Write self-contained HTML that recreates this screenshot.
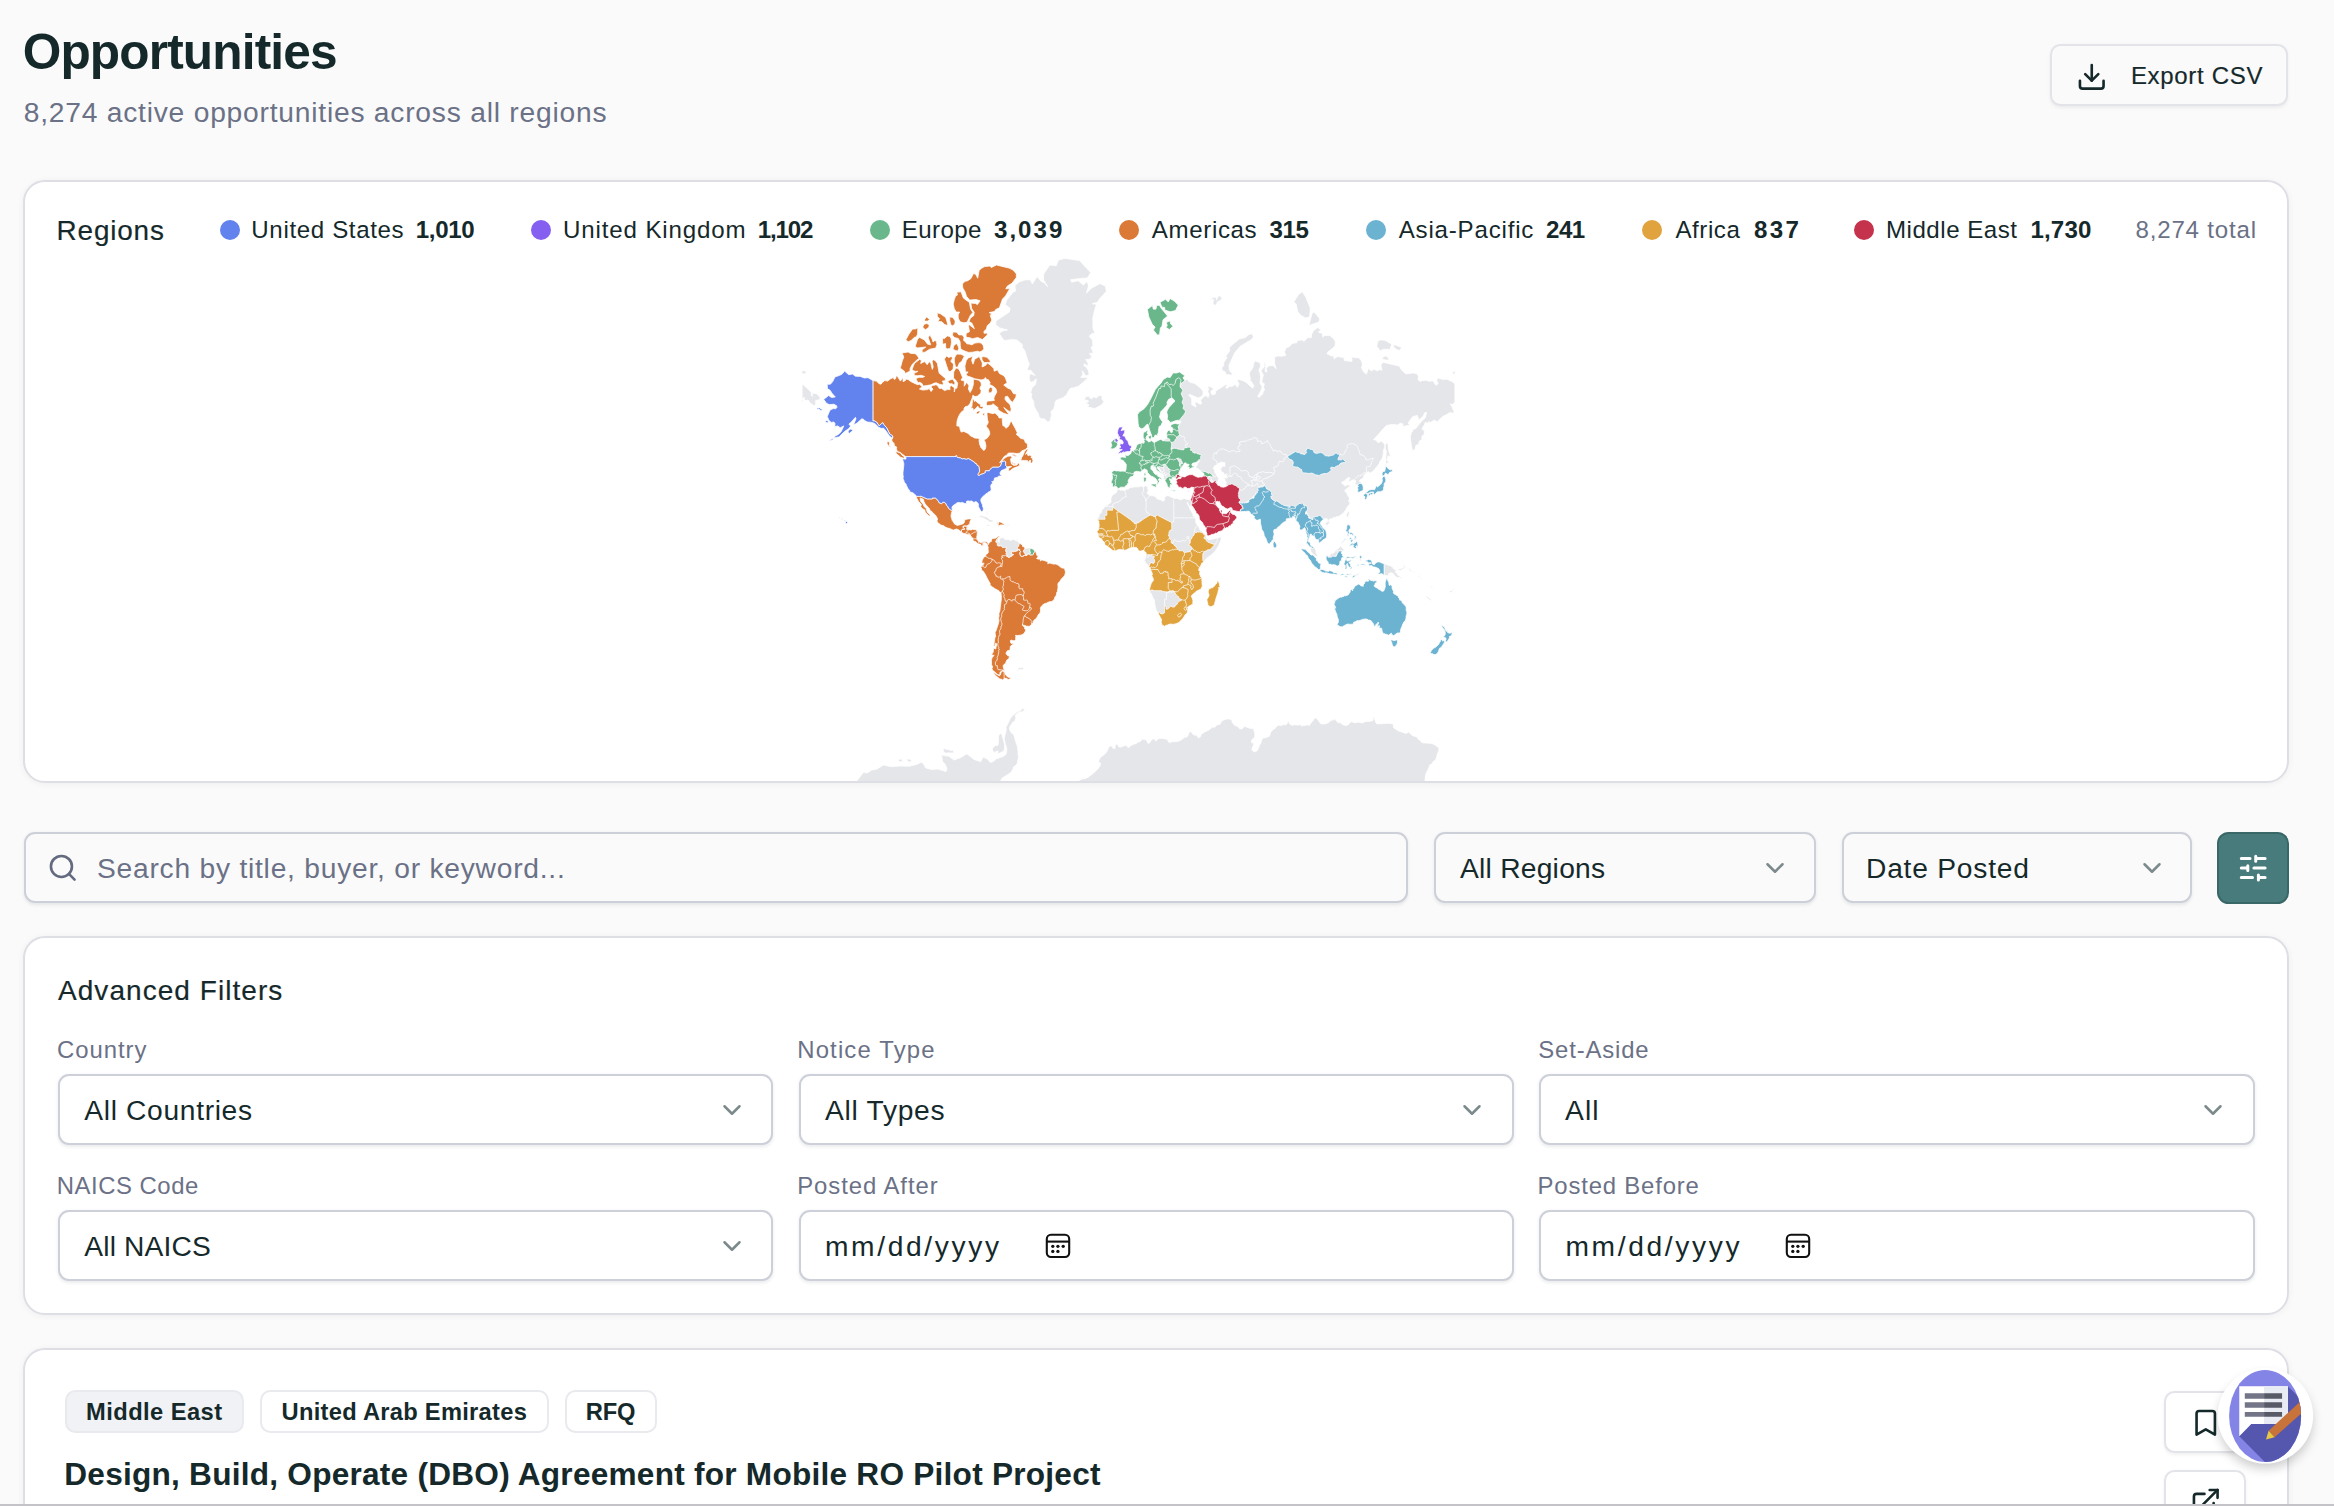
<!DOCTYPE html>
<html lang="en">
<head>
<meta charset="utf-8">
<title>Opportunities</title>
<style>
*{box-sizing:border-box;margin:0;padding:0}
html,body{width:2334px;height:1506px;overflow:hidden;background:#fafafa}
body{font-family:"Liberation Sans",sans-serif;color:#15292b;position:relative}
.abs{position:absolute}
.t{position:absolute;white-space:nowrap;font-style:normal}
button{font-family:inherit;color:inherit}
.btn-export{position:absolute;left:2050px;top:44px;width:238px;height:62px;border:2px solid #e3e4e9;border-radius:10.5px;background:#fafafa;box-shadow:0 1.75px 3.5px rgba(0,0,0,.06)}
.card{position:absolute;left:23px;width:2265.5px;background:#fff;border:2px solid #dedfe5;border-radius:22px;box-shadow:0 1px 7px rgba(0,0,0,.05)}
#mapcard{top:180px;height:603px;overflow:hidden}
.dot{position:absolute;width:20px;height:20px;border-radius:50%}
#map{position:absolute;left:0;top:0}
.field{position:absolute;height:71px;border:2px solid #cdd0d8;border-radius:11px;background:#fff;box-shadow:0 1.75px 3.5px rgba(20,30,50,.09)}
.field.g{background:#fafafa}
.teal{position:absolute;left:2217px;top:832px;width:72px;height:72px;border-radius:11.5px;background:#487c7c;border:2px solid #3a6767}
.chip{position:absolute;top:1390px;height:43px;border:2px solid #e9eaee;border-radius:10.5px;background:#fff}
.chip.f{background:#f1f2f5}
.ib{position:absolute;left:2164px;width:82px;height:62px;border:2px solid #e3e4e9;border-radius:10.5px;background:#fff;box-shadow:0 1.75px 3.5px rgba(0,0,0,.06)}
</style>
</head>
<body>
<h1 class="t" style="left:22.70px;top:21.00px;font-size:49.6px;line-height:62px;letter-spacing:-0.85px;font-weight:700">Opportunities</h1>
<p class="t" style="left:23.70px;top:95.00px;font-size:28.2px;line-height:35px;letter-spacing:0.782px;font-weight:400;color:#6b7186">8,274 active opportunities across all regions</p>
<button class="btn-export"><svg class="abs" style="left:24.30px;top:14.90px" width="31.5" height="31.5" viewBox="0 0 24 24" fill="none" stroke="#15292b" stroke-width="2" stroke-linecap="round" stroke-linejoin="round"><path d="M21 15v4a2 2 0 0 1-2 2H5a2 2 0 0 1-2-2v-4"/><path d="M7 10l5 5 5-5"/><path d="M12 15V3"/></svg><span class="t" style="left:78.90px;top:15.00px;font-size:24.0px;line-height:30px;letter-spacing:0.689px;font-weight:400;-webkit-text-stroke:.18px currentColor">Export CSV</span></button>

<section class="card" id="mapcard">
<svg id="map" width="2334" height="1506" viewBox="0 0 2334 1506" style="left:-25px;top:-182px">
<defs><clipPath id="mc"><rect x="802" y="200" width="653.5" height="640"/></clipPath></defs>
<g clip-path="url(#mc)" stroke="#fff" stroke-width="0.75" stroke-linejoin="round">
<path fill="#e5e6ea" d="M1043.7 273.9L1049.8 265.0L1056.2 265.8L1058.5 260.0L1064.9 258.4L1079.4 260.5L1090.7 272.5L1087.4 277.9L1080.4 278.5L1070.7 279.8L1071.6 282.2L1078.0 280.7L1083.5 285.1L1087.0 281.3L1088.5 285.9L1086.5 293.0L1091.1 288.5L1099.9 283.6L1105.3 286.0L1106.4 291.3L1099.0 299.5L1097.9 302.0L1092.1 303.8L1096.4 304.3L1094.2 311.8L1092.8 318.0L1092.8 327.9L1095.0 333.2L1092.2 333.6L1089.2 336.1L1092.5 340.2L1093.0 346.4L1091.0 347.0L1093.4 353.0L1089.4 353.5L1091.5 356.1L1090.9 358.4L1088.3 359.4L1085.8 359.4L1088.0 363.6L1088.1 366.3L1084.5 363.8L1083.6 365.4L1086.0 366.9L1088.4 370.4L1089.1 375.0L1085.8 376.0L1084.4 373.9L1082.2 370.7L1082.8 374.5L1080.7 377.3L1085.5 377.6L1088.0 377.8L1083.1 382.4L1078.2 386.3L1072.9 388.0L1070.9 388.1L1069.0 389.9L1066.5 394.9L1062.6 398.0L1061.3 398.2L1058.9 399.3L1056.3 400.3L1054.8 403.0L1054.7 405.9L1053.8 408.6L1050.9 411.9L1051.6 414.9L1050.8 418.0L1049.8 421.6L1047.3 421.8L1044.6 418.9L1041.0 418.8L1039.2 416.8L1038.0 413.0L1034.9 408.0L1034.0 405.4L1033.7 401.5L1031.2 397.5L1031.9 394.1L1030.6 392.5L1032.4 386.9L1035.2 385.1L1035.9 382.9L1036.3 378.9L1034.2 380.8L1033.2 381.5L1031.6 382.3L1029.4 380.6L1029.2 377.0L1029.9 374.1L1031.6 374.0L1035.3 375.5L1032.2 372.0L1030.6 370.0L1028.8 370.8L1027.3 369.4L1029.3 363.9L1028.2 361.6L1026.7 357.2L1024.6 350.2L1022.3 347.5L1022.3 344.5L1017.4 340.2L1013.6 339.6L1008.7 339.9L1004.3 340.5L1002.2 338.0L999.0 333.1L1003.8 330.5L1007.5 330.0L999.7 327.9L995.6 324.4L995.9 321.0L1002.7 316.5L1009.4 311.9L1010.1 308.2L1005.2 304.5L1006.8 300.1L1013.0 292.3L1015.7 290.9L1014.9 285.4L1019.2 282.0L1024.8 279.9L1030.4 279.8L1032.3 283.9L1037.1 276.5L1041.5 281.7L1044.0 282.6L1047.8 286.8L1043.5 279.8Z M1102.2 395.9L1101.8 398.8L1103.8 401.7L1101.5 405.0L1096.2 407.8L1094.7 408.6L1092.3 408.0L1087.2 406.7L1089.0 404.9L1085.1 402.8L1088.3 402.0L1088.2 400.7L1084.4 399.7L1085.6 396.8L1088.4 396.1L1091.2 399.1L1093.9 396.7L1096.2 398.0L1099.2 395.5Z M966.9 526.0L966.9 527.5L966.7 529.6L967.3 529.6L967.9 528.9L968.6 527.5L968.4 526.3L968.8 524.9L968.4 524.7Z M974.5 518.1L975.5 517.5L976.4 517.6L978.4 516.5L979.3 515.6L982.4 515.7L984.0 516.4L986.5 516.9L988.7 518.6L989.8 519.5L991.4 519.8L992.7 520.4L994.0 521.2L993.8 521.7L991.4 522.0L987.5 522.0L988.7 521.0L988.0 520.5L986.2 519.8L984.7 518.8L982.5 517.8L980.2 517.5L979.5 517.1L980.2 516.6L978.4 516.5L977.1 517.6L976.2 518.1Z M995.8 521.9L998.5 522.3L998.6 523.4L998.5 524.1L998.0 524.4L998.5 525.0L998.5 525.5L997.3 525.2L996.4 525.3L995.3 525.2L993.5 525.0L993.7 524.4L996.7 524.8L997.4 524.3L996.5 523.5L996.5 522.8L995.4 522.5Z M987.9 524.7L989.1 524.9L990.0 525.3L990.3 525.8L989.1 525.9L988.5 526.2L987.5 525.9L986.5 525.2L986.7 524.8Z M1008.3 524.6L1009.3 524.8L1009.6 525.2L1009.1 525.7L1007.7 525.7L1006.7 525.7L1006.6 524.9L1006.8 524.6Z M987.9 514.4L987.5 514.5L987.0 513.4L986.3 512.8L986.7 511.5L987.3 511.6L987.9 513.3Z M987.4 508.8L985.4 509.1L985.3 508.4L986.2 508.2L987.4 508.3Z M988.9 508.8L988.6 510.2L988.2 509.9L988.3 508.9L987.5 508.1L987.5 507.8Z M1016.7 539.2L1017.7 538.9L1018.1 539.0L1018.0 540.4L1016.5 540.6L1016.2 540.4L1016.7 539.9Z M1020.1 543.6L1019.4 543.1L1018.2 541.7L1016.8 540.8L1015.4 540.7L1014.6 539.7L1016.1 539.3L1014.3 539.3L1011.9 539.9L1010.8 540.4L1009.5 540.2L1008.4 539.4L1006.5 539.6L1004.9 539.6L1004.8 538.9L1003.6 537.9L1002.3 537.9L1001.7 536.6L1001.1 537.2L1001.3 538.0L999.0 538.8L999.1 540.2L999.7 540.8L999.3 542.2L998.5 542.3L997.8 540.8L998.6 538.8L998.0 538.0L999.2 537.3L998.0 537.6L997.5 538.5L996.9 539.1L996.3 539.7L996.1 541.1L995.6 542.1L996.5 542.2L996.8 543.1L997.2 543.5L997.3 544.2L997.1 544.9L997.2 545.3L997.6 545.5L998.0 546.1L1000.4 545.9L1001.4 546.1L1002.7 547.7L1003.4 547.5L1004.7 547.6L1005.8 547.4L1006.4 547.7L1006.1 548.7L1005.7 549.3L1005.5 550.6L1005.9 551.8L1006.4 552.4L1006.5 552.8L1005.6 553.7L1006.2 554.1L1006.7 554.7L1007.2 556.5L1008.2 557.5L1009.7 557.4L1010.0 556.8L1011.4 556.4L1012.1 556.1L1012.3 555.3L1013.6 554.8L1013.5 554.4L1012.0 554.3L1011.7 553.1L1011.8 551.9L1011.0 551.4L1011.3 551.3L1012.7 551.5L1014.1 552.0L1014.6 551.5L1015.9 551.3L1018.0 550.6L1018.6 549.9L1018.4 549.4L1017.2 548.0L1017.6 547.5L1017.6 546.6L1018.7 546.3L1019.2 546.0L1018.6 545.3L1018.7 544.7Z M1024.9 548.0L1027.1 548.3L1027.3 548.0L1028.7 547.8L1030.7 548.3L1029.7 549.9L1029.9 551.2L1030.6 552.2L1030.3 553.0L1030.1 553.8L1029.6 554.6L1028.6 554.2L1027.7 554.4L1027.0 554.2L1026.8 554.8L1027.1 555.1L1027.0 555.5L1026.0 555.4L1024.9 553.8L1024.6 552.8L1024.1 552.8L1023.3 551.4L1023.6 550.5L1023.5 550.1L1024.6 549.6Z M1017.5 669.1L1019.7 667.4L1021.3 668.1L1022.3 666.9L1023.8 668.2L1023.2 669.3L1020.8 670.1L1020.0 669.1L1018.4 670.4Z M1187.8 490.7L1188.0 490.6L1188.2 490.1L1189.5 490.2L1191.2 489.5L1190.0 490.4L1190.1 490.8L1190.1 491.0L1188.3 491.9L1187.4 491.6L1187.0 490.8Z M1117.7 489.3L1119.1 489.3L1120.2 490.2L1121.9 490.1L1123.8 490.6L1124.6 490.6L1126.3 489.4L1128.3 489.0L1129.4 488.1L1131.2 487.4L1134.2 487.0L1137.2 486.8L1138.1 487.1L1139.9 486.2L1141.8 486.2L1142.5 486.7L1143.8 486.6L1145.7 485.7L1147.0 486.0L1147.0 487.1L1148.5 486.3L1148.6 486.7L1147.7 487.8L1147.7 488.9L1148.3 489.4L1148.1 491.4L1146.9 492.5L1147.2 493.6L1148.2 493.7L1148.6 494.7L1149.3 495.1L1151.5 495.8L1152.2 495.6L1153.7 496.0L1156.1 496.9L1157.0 498.8L1158.6 499.3L1161.2 500.1L1163.1 501.2L1164.0 500.6L1164.9 499.7L1164.4 498.0L1165.0 497.0L1166.3 496.0L1167.6 495.7L1170.0 496.1L1170.6 497.1L1171.3 497.1L1171.9 497.5L1173.7 497.7L1174.1 498.4L1176.5 498.4L1178.3 499.0L1180.1 499.6L1180.9 499.9L1182.3 499.2L1183.1 498.6L1184.7 498.4L1186.0 498.7L1186.4 499.8L1186.9 499.1L1188.3 499.6L1189.7 499.7L1190.6 499.2L1191.8 502.8L1191.3 503.6L1190.9 505.2L1190.4 506.3L1190.0 506.6L1189.4 505.9L1188.6 505.0L1187.3 502.1L1187.1 502.2L1187.8 504.4L1189.0 506.5L1190.3 509.7L1191.0 510.8L1191.6 511.9L1193.2 514.1L1192.8 514.4L1192.9 515.7L1195.0 517.5L1195.3 517.9L1195.9 519.8L1195.5 520.2L1195.8 522.1L1196.5 524.4L1197.1 524.9L1198.1 525.6L1199.2 527.8L1199.7 529.6L1200.7 530.5L1203.2 532.2L1204.2 533.3L1205.2 534.4L1205.7 535.0L1206.6 535.6L1207.0 536.2L1207.0 536.9L1206.0 537.4L1206.7 537.9L1207.3 538.2L1207.7 539.0L1208.5 539.7L1209.4 539.8L1211.1 539.3L1213.1 539.1L1214.7 538.5L1215.6 538.4L1216.2 538.0L1217.3 538.0L1217.8 537.9L1218.7 537.7L1219.6 537.5L1220.5 536.8L1221.2 536.8L1221.2 537.3L1221.0 538.4L1221.1 539.4L1220.7 540.1L1220.2 542.0L1219.3 544.1L1218.2 546.4L1216.6 549.1L1215.1 551.1L1212.9 553.6L1211.1 555.1L1208.4 556.9L1206.7 558.3L1204.7 560.5L1204.3 561.4L1203.9 561.8L1197.4 564.2L1193.8 577.0L1186.5 595.8L1175.6 611.7L1168.4 616.9L1164.8 615.9L1158.1 612.9L1156.8 611.3L1156.1 609.9L1155.7 607.9L1155.2 606.4L1154.6 603.3L1154.6 601.0L1154.4 599.9L1153.6 599.1L1152.7 597.5L1151.8 595.2L1151.4 594.0L1149.9 592.1L1149.8 590.7L1153.9 584.4L1154.8 573.4L1152.1 567.1L1148.6 566.0L1146.8 564.2L1145.6 562.7L1144.5 560.8L1144.5 560.2L1144.9 559.6L1145.3 558.3L1145.7 557.0L1145.4 556.7L1146.0 554.7L1150.3 553.4L1146.6 547.9L1128.5 540.6L1110.4 536.9L1106.7 525.6L1103.1 519.8L1097.6 519.8L1097.6 519.0L1097.7 518.1L1098.4 517.6L1099.0 516.6L1098.9 515.9L1099.5 514.5L1100.5 513.2L1101.1 512.9L1101.6 511.8L1101.7 510.7L1102.3 509.4L1103.5 508.7L1104.7 506.6L1105.6 505.8L1107.3 505.6L1108.7 504.2L1109.6 503.6L1111.2 501.9L1110.7 499.3L1111.4 497.4L1111.6 496.3L1112.8 494.8L1114.6 493.8L1116.0 492.9L1117.2 490.6L1117.7 489.3Z M1184.9 380.8L1186.8 379.0L1189.7 382.2L1194.7 383.4L1201.5 389.0L1202.9 391.2L1203.1 394.4L1201.1 396.7L1198.1 397.9L1190.0 394.5L1188.7 395.1L1191.6 398.4L1191.7 400.4L1191.8 404.8L1194.2 406.1L1195.6 407.1L1195.8 405.1L1194.8 403.3L1195.9 401.7L1200.3 404.3L1201.8 403.3L1200.6 400.1L1204.8 395.8L1206.5 396.0L1208.2 397.6L1209.2 394.5L1207.7 391.7L1208.6 388.9L1207.3 385.9L1212.4 387.4L1213.4 390.1L1211.1 390.7L1211.1 393.3L1212.5 394.9L1215.3 393.9L1215.8 390.9L1219.6 388.6L1225.9 384.4L1227.3 384.7L1225.5 387.7L1227.7 388.2L1229.0 386.5L1232.4 386.3L1235.1 384.3L1237.2 387.3L1239.2 384.0L1237.3 381.0L1238.3 379.3L1243.6 380.9L1246.2 382.5L1252.7 388.2L1253.9 385.6L1252.1 383.0L1252.0 381.9L1249.9 381.4L1250.4 378.9L1249.5 374.7L1249.4 372.9L1252.8 367.8L1254.0 362.3L1255.3 361.1L1260.1 362.7L1260.5 366.1L1258.8 370.8L1259.9 372.6L1260.5 376.4L1260.1 383.6L1262.1 386.6L1261.3 389.9L1257.7 396.5L1259.8 397.2L1260.5 395.5L1262.5 394.4L1263.0 392.1L1264.6 389.8L1263.5 387.0L1264.4 383.7L1262.4 383.3L1261.9 380.5L1263.4 375.1L1261.0 370.6L1264.3 366.7L1263.9 362.4L1264.8 362.3L1265.7 365.6L1265.0 371.2L1266.9 372.2L1266.1 368.1L1269.2 365.8L1272.9 365.5L1276.3 368.8L1274.7 363.9L1274.5 357.2L1277.6 355.9L1282.0 356.2L1285.9 355.3L1284.4 351.9L1286.5 347.3L1288.6 347.2L1292.2 343.6L1296.9 342.6L1297.5 340.5L1302.3 339.9L1303.8 341.5L1307.9 337.5L1311.2 337.7L1311.7 334.3L1313.4 330.8L1317.7 327.4L1320.8 330.1L1318.3 332.1L1322.4 333.4L1322.9 337.3L1324.6 335.4L1329.9 335.5L1334.0 339.3L1335.4 342.0L1335.0 345.8L1333.0 348.0L1328.2 351.8L1326.9 353.8L1329.1 354.7L1331.8 356.3L1333.4 355.1L1334.3 359.2L1335.1 357.6L1338.0 356.6L1343.9 357.6L1344.3 360.6L1351.9 361.5L1352.0 356.7L1355.8 357.8L1358.7 357.7L1361.6 361.1L1362.5 365.0L1361.4 367.5L1363.7 372.0L1366.5 374.3L1368.3 368.3L1371.2 370.9L1374.3 369.3L1377.8 371.1L1379.1 369.5L1382.1 370.3L1380.8 364.9L1383.2 362.3L1399.6 366.2L1401.1 369.6L1405.8 374.0L1413.2 372.9L1416.8 373.8L1418.3 376.1L1418.1 380.0L1420.3 381.4L1422.7 380.4L1425.9 380.3L1429.4 381.3L1432.8 380.7L1436.0 385.3L1438.2 383.6L1436.7 380.4L1437.5 378.0L1443.3 379.5L1447.1 379.2L1452.3 381.7L1454.9 383.9L1454.9 402.4L1452.5 404.3L1450.2 404.0L1451.8 406.2L1452.9 409.6L1453.7 410.7L1453.9 412.3L1453.5 413.3L1450.1 412.5L1445.0 415.4L1443.4 415.9L1440.6 418.5L1438.0 420.8L1437.3 422.4L1434.7 419.9L1430.0 422.7L1429.2 421.4L1427.4 423.0L1425.0 422.5L1424.4 424.8L1422.3 428.2L1422.3 429.6L1424.4 430.3L1424.1 435.2L1422.5 435.3L1421.7 438.0L1422.4 439.3L1419.3 441.0L1418.6 444.5L1415.9 445.2L1415.4 448.2L1412.8 450.9L1412.1 448.9L1411.3 444.6L1410.3 437.7L1411.2 433.2L1412.7 431.2L1412.8 429.6L1415.6 428.8L1418.9 424.5L1422.0 420.8L1425.3 417.8L1426.7 412.4L1424.5 412.7L1423.4 415.9L1418.8 420.0L1417.3 415.4L1412.6 416.7L1408.1 422.9L1409.6 425.1L1405.6 426.0L1402.8 426.3L1402.9 423.8L1400.1 423.2L1397.8 425.0L1392.3 424.4L1386.3 425.4L1380.4 432.1L1373.5 439.7L1376.4 440.2L1377.2 442.1L1379.0 442.8L1380.2 441.2L1382.2 441.4L1384.8 444.8L1384.8 447.3L1383.4 450.3L1383.3 453.7L1382.4 458.1L1379.7 462.0L1379.1 463.8L1376.6 466.9L1374.2 469.8L1373.0 471.3L1370.6 472.8L1369.5 472.8L1368.3 471.6L1365.9 473.4L1365.6 474.2L1364.9 474.1L1364.1 474.9L1363.6 475.7L1363.7 477.5L1362.7 478.0L1362.4 478.4L1361.7 479.1L1360.5 479.5L1359.7 480.1L1359.7 481.1L1359.5 481.4L1360.2 481.8L1361.2 482.8L1361.0 483.4L1360.2 483.5L1358.9 483.6L1358.2 484.7L1357.4 484.6L1357.3 484.8L1356.4 484.4L1356.2 484.8L1355.6 485.0L1355.6 484.5L1355.1 484.3L1354.6 484.0L1355.1 482.9L1355.5 482.7L1355.4 482.2L1355.8 481.0L1355.7 480.6L1354.7 480.3L1353.8 479.7L1351.3 480.4L1349.9 481.5L1348.0 482.1L1349.0 481.1L1348.6 480.1L1350.0 478.5L1349.0 477.3L1347.5 478.1L1345.4 479.8L1344.3 481.3L1342.5 481.4L1341.6 482.5L1342.6 484.1L1344.0 484.4L1344.1 485.5L1345.5 486.1L1347.6 484.5L1349.2 485.4L1350.4 485.5L1350.6 486.7L1348.1 487.3L1347.2 488.5L1345.5 489.6L1344.5 491.2L1346.5 492.4L1347.2 494.5L1348.3 496.5L1349.5 498.2L1349.5 499.7L1348.4 500.3L1348.8 501.4L1349.9 502.1L1349.6 503.8L1349.1 505.4L1348.1 505.6L1346.8 507.8L1345.3 510.5L1343.6 512.9L1341.1 514.7L1338.6 516.4L1336.6 516.6L1335.5 517.5L1334.8 516.8L1333.8 517.8L1331.3 518.8L1329.4 519.1L1328.7 521.1L1327.7 521.2L1327.3 519.8L1327.7 519.1L1325.3 518.4L1324.4 518.8L1320.7 519.8L1315.2 521.8L1309.8 517.9L1305.3 510.0L1298.9 506.9L1288.1 507.9L1280.8 505.9L1273.5 501.7L1269.9 495.4L1262.7 488.8L1255.4 494.3L1249.1 500.7L1240.9 504.9L1233.7 495.4L1228.2 491.0L1215.5 486.5L1210.1 483.1L1207.0 478.8L1205.6 476.4L1204.3 474.7L1201.9 471.8L1201.0 471.2L1198.6 469.1L1196.6 468.1L1195.0 466.6L1196.3 466.2L1197.8 464.0L1196.8 463.0L1199.5 461.9L1199.4 461.3L1197.8 461.8L1195.6 458.0L1188.3 451.0L1179.3 451.0L1172.9 450.1L1170.2 446.6L1171.1 440.5L1176.5 435.7L1178.0 429.0L1179.2 423.9L1181.3 421.9L1179.4 420.2L1182.0 414.5L1182.0 402.3L1180.2 388.6L1181.1 382.2Z M802.1 383.9L806.6 387.7L811.3 392.4L811.2 395.3L812.4 396.4L812.0 393.1L816.9 393.8L820.5 398.0L818.7 400.0L815.7 400.4L815.6 404.6L814.9 405.5L813.2 405.4L811.8 403.9L809.4 402.6L809.0 400.8L807.2 400.1L805.1 400.6L804.1 399.1L804.5 397.4L802.4 398.5L803.2 400.6L802.1 402.4Z M1165.0 480.4L1164.7 480.3L1164.7 479.7L1163.7 479.0L1163.5 477.8L1163.7 476.2L1163.9 475.4L1163.6 475.0L1163.2 474.8L1162.7 474.1L1162.0 473.6L1161.1 471.0L1157.5 466.0L1162.9 463.3L1167.5 466.0L1170.6 472.3L1170.6 477.2L1166.6 480.7Z M1313.7 547.5L1314.1 547.7L1315.2 548.8L1315.9 550.0L1316.0 551.2L1315.8 552.0L1316.0 552.7L1316.2 553.7L1316.8 554.2L1317.5 555.8L1317.5 556.5L1316.2 556.6L1314.5 555.2L1312.3 553.8L1312.1 552.9L1311.1 551.7L1310.8 550.1L1310.2 549.2L1310.4 547.8L1310.0 547.1L1310.3 546.7L1311.8 547.5L1311.9 548.5L1313.1 548.2Z M1349.3 513.2L1348.2 516.3L1347.4 518.0L1346.5 516.3L1346.3 514.8L1347.3 512.9L1348.8 511.4L1349.6 512.0Z M1328.6 524.3L1327.0 525.2L1325.5 524.6L1325.5 523.0L1326.3 522.1L1328.3 521.6L1329.4 521.6L1329.8 522.4L1329.0 523.2Z M1389.0 451.7L1390.8 456.7L1388.1 455.7L1387.0 459.7L1388.7 462.4L1388.7 464.3L1387.3 462.7L1386.1 464.7L1385.8 462.5L1386.0 459.9L1385.8 457.0L1386.2 454.9L1386.3 451.1L1385.2 448.2L1385.4 444.2L1387.1 442.8L1386.3 441.3L1387.1 440.9L1387.6 442.9L1388.2 445.8L1388.2 448.7Z M1252.1 333.6L1253.3 336.8L1252.1 339.2L1245.7 342.9L1240.2 346.3L1234.5 352.9L1231.8 359.3L1229.0 365.2L1229.3 370.0L1232.8 374.6L1231.7 375.1L1225.8 374.4L1225.3 371.9L1222.1 370.4L1221.8 367.3L1223.7 366.0L1223.6 362.8L1227.2 357.4L1225.5 356.6L1229.9 350.7L1229.4 347.6L1233.4 343.8L1239.4 339.0L1245.4 337.6L1248.5 334.7Z M1302.4 291.8L1306.0 297.6L1310.2 308.0L1309.7 316.8L1305.7 317.9L1300.7 315.3L1297.7 311.5L1296.3 304.2L1293.8 302.1L1298.5 294.5Z M1315.0 313.0L1319.5 318.4L1319.0 322.0L1308.8 325.5L1312.1 313.5L1313.6 312.3Z M1380.2 339.9L1385.0 340.2L1391.6 344.2L1390.1 349.4L1383.4 349.2L1380.4 350.9L1376.8 346.3L1377.8 341.3Z M1397.2 345.7L1401.8 347.6L1399.7 350.3L1396.8 349.7L1393.4 347.0L1393.9 344.6Z M1382.1 359.0L1383.8 356.5L1386.1 355.9L1388.6 358.3L1388.9 360.0L1386.1 360.0L1382.4 359.3Z M1454.9 374.0L1452.9 374.3L1452.6 372.5L1454.9 370.2Z M802.1 370.2L806.5 371.6L806.4 372.4L804.5 373.7L802.1 374.0Z M1209.8 299.4L1213.4 297.4L1216.1 297.2L1216.5 300.3L1217.5 297.6L1219.2 295.6L1221.9 298.1L1221.2 299.8L1218.8 301.2L1217.1 302.1L1216.9 303.8L1214.8 305.6L1212.8 303.1L1213.8 299.7Z M1343.6 550.7L1342.2 551.3L1340.7 551.0L1338.6 551.0L1337.9 553.0L1337.2 553.7L1336.3 556.2L1334.8 556.6L1333.1 556.1L1332.3 556.2L1331.2 557.2L1330.0 557.0L1328.9 557.4L1327.6 556.4L1327.3 555.2L1328.7 555.8L1330.1 555.4L1330.4 553.9L1331.2 553.6L1333.4 553.2L1334.7 551.7L1335.6 550.6L1336.3 549.9L1337.8 548.9L1339.2 547.6L1340.1 546.2L1340.9 546.2L1341.8 547.1L1341.9 547.9L1343.1 548.4L1344.6 549.0L1344.5 549.7L1343.2 549.8Z M1384.1 563.5L1387.3 564.8L1390.6 565.8L1391.9 566.7L1392.9 567.7L1393.2 568.7L1396.2 569.8L1396.6 570.8L1395.0 571.0L1395.4 572.2L1397.0 573.4L1398.2 575.4L1399.2 575.3L1399.1 576.1L1400.5 576.4L1400.0 576.8L1401.9 577.6L1401.7 578.1L1400.5 578.2L1400.1 577.7L1398.5 577.5L1396.7 577.3L1395.3 576.1L1394.2 575.1L1393.3 573.5L1390.9 572.7L1389.4 573.2L1388.3 573.8L1388.5 575.1L1387.1 575.8L1386.1 575.5L1384.2 575.4L1384.1 569.4Z M1402.8 569.4L1401.8 569.8L1400.9 570.3L1399.9 570.3L1398.5 569.8L1397.4 569.2L1397.6 568.7L1399.2 568.9L1400.2 568.8L1400.7 567.9L1400.9 568.8L1401.9 568.7L1402.4 568.1L1403.5 567.4L1403.3 566.4L1404.3 566.3L1404.7 566.6L1404.7 567.6L1404.1 568.8L1403.1 568.9Z M1401.7 563.8L1402.2 563.3L1403.1 563.8L1403.8 564.2L1404.5 564.7L1405.3 565.4L1405.9 566.0L1406.2 567.0L1405.6 567.5L1405.3 566.4L1404.8 565.7L1404.0 565.1L1403.0 564.3Z M1409.1 568.5L1409.6 568.9L1410.5 570.1L1411.4 570.7L1411.1 571.2L1410.6 571.4L1409.8 570.7L1409.0 569.5L1408.6 568.1L1408.9 567.9Z M1429.1 597.9L1430.6 599.1L1431.5 600.0L1430.8 600.5L1429.8 600.0L1428.5 599.1L1427.4 598.0L1426.2 596.7L1425.9 596.0L1426.7 596.1L1427.7 596.7L1428.5 597.4Z M802.1 795.5L829.3 797.3L841.3 788.6L847.5 786.1L856.5 781.3L863.6 772.3L866.9 773.0L871.8 770.1L876.7 769.2L883.4 765.0L891.2 766.7L900.0 766.0L909.1 766.3L914.6 765.0L917.8 764.0L920.9 762.3L923.1 763.3L925.8 768.0L931.4 769.4L938.1 769.1L946.1 771.6L947.0 768.5L944.9 763.8L942.6 762.0L941.6 754.7L944.3 755.6L949.0 756.3L953.9 760.0L961.0 757.5L966.8 753.8L974.0 759.4L980.7 761.7L982.9 757.1L987.1 758.8L990.3 762.4L992.7 761.8L996.5 758.8L1003.6 756.3L1005.4 755.0L1006.3 753.2L1006.8 750.5L1006.6 747.9L1005.9 745.9L1004.3 739.6L1004.4 737.5L1005.9 731.6L1006.3 729.7L1005.9 727.5L1007.6 724.2L1009.9 719.2L1012.1 716.0L1015.2 713.6L1017.9 711.5L1020.1 710.9L1022.3 708.6L1024.8 709.0L1024.1 710.5L1022.3 711.7L1020.1 711.9L1018.6 712.3L1016.1 714.4L1015.2 715.7L1015.9 717.5L1014.6 721.5L1013.0 721.9L1009.7 727.0L1009.4 729.0L1011.0 732.4L1013.9 734.9L1015.5 741.2L1017.0 745.1L1017.9 750.2L1018.4 757.5L1017.2 763.3L1016.1 765.3L1013.7 766.7L1013.0 768.7L1011.7 771.6L1009.0 773.7L1006.7 775.2L1001.9 778.2L1000.5 781.3L997.6 782.1L994.3 781.3L988.5 782.1L987.3 787.7L992.5 792.8L1019.7 811.9L1046.9 792.8L1063.2 792.8L1064.5 792.0L1067.0 792.0L1070.1 789.8L1074.1 784.4L1076.1 781.8L1082.3 778.9L1085.2 778.5L1087.7 777.4L1092.2 774.2L1096.8 770.1L1100.0 766.0L1100.6 763.3L1098.6 761.8L1099.3 759.2L1100.6 757.2L1104.4 754.4L1106.2 752.6L1107.6 750.2L1108.6 747.3L1109.8 746.0L1112.0 746.2L1112.9 748.3L1115.1 748.5L1115.1 746.2L1116.0 744.0L1118.0 744.5L1118.5 746.8L1120.7 747.1L1123.0 746.2L1125.2 745.5L1127.3 745.8L1128.1 747.9L1130.1 746.2L1131.9 745.1L1133.9 744.0L1135.9 743.7L1137.9 742.3L1139.9 741.5L1141.4 740.4L1142.5 738.6L1143.9 739.9L1145.7 739.1L1148.1 743.4L1150.2 742.3L1151.0 740.4L1152.8 738.9L1155.2 739.2L1155.9 741.2L1157.4 739.2L1159.3 738.6L1161.5 738.4L1163.4 738.5L1165.5 739.1L1167.4 739.5L1168.2 741.2L1169.5 742.9L1171.5 741.8L1173.5 741.7L1175.6 741.7L1177.6 741.5L1179.4 740.7L1181.4 740.1L1182.9 738.6L1184.7 737.3L1186.5 737.3L1187.9 735.8L1188.9 732.9L1189.9 731.4L1191.8 732.2L1192.5 733.9L1194.1 735.2L1195.9 734.8L1197.2 736.5L1198.6 737.9L1200.4 736.7L1201.0 734.4L1202.7 733.4L1204.7 731.9L1208.5 730.3L1212.8 727.0L1214.4 727.5L1217.3 724.7L1219.0 724.7L1220.5 723.7L1220.9 722.0L1222.4 720.8L1223.9 719.9L1225.7 719.2L1227.3 718.9L1228.9 719.1L1230.8 719.5L1232.1 720.8L1232.3 722.7L1233.8 724.2L1234.9 725.6L1237.1 726.1L1238.4 727.4L1239.8 728.7L1241.6 729.0L1243.1 728.0L1244.6 726.1L1246.4 727.0L1249.8 728.3L1251.6 728.6L1253.4 728.6L1254.9 733.8L1254.8 735.1L1254.6 737.4L1252.9 738.7L1251.4 740.7L1251.7 742.9L1253.7 742.7L1253.5 744.9L1252.6 747.0L1251.7 749.4L1253.1 751.2L1255.2 751.8L1257.2 750.8L1259.9 744.6L1261.0 743.0L1261.4 741.0L1262.4 738.4L1263.6 737.9L1265.6 737.7L1267.4 737.1L1269.3 736.3L1270.1 734.3L1270.6 732.4L1271.9 730.6L1273.7 729.3L1275.2 728.4L1276.3 726.7L1277.3 725.9L1278.6 725.2L1280.4 725.7L1282.0 725.2L1283.8 724.6L1285.8 724.9L1287.1 723.7L1288.0 720.6L1288.7 721.8L1289.6 724.0L1291.1 724.9L1292.8 725.3L1294.6 724.7L1296.4 725.1L1298.0 725.1L1299.3 724.7L1300.7 725.0L1302.2 726.1L1303.8 725.4L1305.7 725.4L1307.4 724.7L1309.3 725.4L1310.5 723.8L1311.4 722.3L1312.7 721.1L1314.9 717.7L1316.1 718.3L1317.5 719.5L1318.7 721.1L1321.0 723.9L1322.8 724.0L1324.5 724.0L1326.4 723.5L1328.4 722.8L1329.9 721.6L1331.1 720.2L1333.1 720.1L1334.5 719.1L1335.9 720.0L1336.8 721.4L1338.1 722.8L1340.1 722.6L1341.3 723.8L1343.5 725.0L1345.8 725.5L1347.6 725.1L1349.1 723.7L1350.3 722.2L1351.9 721.8L1353.5 722.5L1355.4 722.9L1357.1 722.2L1358.8 722.2L1362.0 723.1L1363.7 722.3L1365.6 721.6L1367.5 721.4L1369.5 721.4L1371.2 721.0L1372.8 720.6L1373.3 718.4L1373.4 716.6L1374.5 717.8L1374.8 719.8L1375.4 721.6L1376.2 723.2L1377.7 724.0L1379.8 723.8L1382.2 723.7L1383.8 723.4L1386.2 723.4L1387.9 723.3L1390.3 723.5L1392.3 723.8L1393.6 725.3L1393.2 727.0L1394.4 728.5L1396.3 729.6L1398.4 730.9L1400.7 731.7L1403.1 732.5L1405.0 733.2L1407.1 733.3L1408.2 731.7L1409.8 733.1L1411.2 734.7L1412.8 735.8L1415.0 736.4L1417.1 737.0L1418.0 739.0L1420.1 740.3L1421.4 742.2L1423.5 743.1L1425.6 743.0L1427.5 743.3L1429.7 743.2L1431.8 743.6L1433.9 744.3L1435.7 745.7L1437.6 746.8L1438.9 748.5L1438.7 750.8L1437.7 752.8L1436.9 755.6L1436.3 757.8L1435.4 760.4L1433.1 761.4L1432.0 763.8L1429.6 765.2L1428.8 767.8L1427.6 770.5L1426.3 772.7L1425.5 775.7L1425.1 778.5L1424.9 782.0L1424.9 785.0L1426.0 788.2L1426.3 791.4L1427.2 794.4L1430.6 795.7L1431.3 799.6L1445.8 795.5L1454.9 797.3L1454.9 884.1L802.1 884.1Z M1004.4 744.3L1004.6 746.8L1004.3 749.1L1003.8 751.2L1001.7 752.1L999.6 753.2L997.2 753.1L998.1 750.8L994.0 752.4L992.6 750.6L992.5 748.3L994.5 746.0L995.7 745.4L997.8 745.6L998.4 742.7L998.5 740.7L998.4 736.5L999.5 734.1L1001.1 733.3L1002.1 735.2L1002.5 737.1L1003.3 739.5L1003.9 741.8Z M943.0 749.6L944.1 748.6L946.4 749.4L949.0 749.8L951.0 750.6L953.0 749.9L954.1 753.3L952.7 752.8L950.5 753.1L948.2 752.8L945.8 753.2L943.9 752.1Z M1418.1 575.6L1419.2 575.9L1419.8 576.3L1420.1 576.8L1419.4 576.8L1418.3 576.6L1417.9 576.4Z M1420.3 573.9L1420.9 575.4L1421.6 576.3L1421.4 576.6L1420.0 575.0L1419.6 573.9Z M1416.0 572.9L1417.9 573.4L1418.4 574.0L1418.5 574.3L1417.0 573.6L1415.4 572.3L1415.6 572.1L1416.5 572.5Z M1413.4 571.6L1414.1 572.2L1413.8 572.3L1413.0 571.9L1412.2 571.1L1412.3 570.8Z M1421.6 577.4L1422.9 578.6L1421.7 578.5L1421.0 577.4Z M1431.7 588.0L1432.8 589.1L1432.2 589.3L1431.6 588.5Z M1430.9 587.6L1430.7 587.0L1430.6 585.6L1431.5 586.2L1431.8 587.7L1431.3 587.5Z M1451.9 590.7L1452.5 591.3L1452.2 592.3L1451.1 592.5L1450.1 592.3L1449.9 591.5L1450.6 590.8L1451.5 591.0Z M1453.7 589.7L1452.6 590.1L1452.3 589.4L1453.2 589.0L1453.8 588.9L1454.9 588.3L1454.9 589.3Z M898.2 759.4L901.9 759.1L902.8 761.3L899.1 762.0Z M906.4 758.8L910.9 759.4L911.8 761.7L908.2 762.0Z"/>
<path fill="#ffffff" d="M1217.1 483.5L1217.7 485.2L1219.4 485.7L1220.7 486.8L1223.3 487.2L1226.1 486.6L1226.3 486.0L1225.9 484.4L1226.3 482.0L1224.8 481.2L1225.2 479.6L1224.0 479.5L1224.4 477.5L1226.2 478.0L1227.7 477.3L1226.4 475.8L1225.9 474.4L1224.4 475.1L1224.2 476.8L1223.7 475.3L1223.6 474.7L1224.0 473.7L1223.7 472.8L1221.6 472.0L1220.8 469.7L1219.8 469.1L1219.7 468.2L1221.5 468.5L1221.5 466.6L1223.1 466.2L1224.7 466.6L1225.0 464.1L1224.7 462.4L1222.9 462.6L1221.3 461.9L1219.2 463.1L1217.5 463.6L1216.7 465.1L1214.9 465.6L1213.1 468.2L1214.8 470.6L1214.6 472.3L1216.6 475.2L1217.5 476.5L1218.5 478.2L1219.3 478.3L1219.9 478.9L1218.4 479.1L1218.1 481.0L1217.7 481.8L1217.1 482.3Z"/>
<path fill="#c4324c" d="M1203.8 475.9L1205.8 475.8L1207.5 476.9L1207.8 477.8L1207.7 479.0L1209.0 479.5L1209.7 480.2L1210.0 481.1L1210.9 482.2L1212.2 482.5L1212.8 482.4L1215.0 480.7L1215.6 480.5L1216.2 481.2L1215.5 482.4L1216.7 483.6L1217.1 483.5L1217.7 485.2L1219.4 485.7L1220.7 486.8L1223.3 487.2L1226.1 486.6L1226.3 486.0L1227.9 485.6L1229.1 484.3L1230.4 484.4L1231.2 483.9L1232.4 484.1L1234.5 485.3L1235.9 485.6L1238.0 487.6L1239.3 487.7L1239.5 489.5L1238.7 492.3L1238.2 493.9L1239.0 494.2L1238.3 495.4L1238.8 497.1L1239.0 498.5L1240.4 498.8L1240.5 500.2L1238.9 502.1L1239.8 503.2L1240.5 504.4L1242.2 505.3L1242.3 507.2L1243.1 507.5L1243.3 508.4L1240.7 509.5L1240.0 511.8L1236.6 511.2L1234.6 510.7L1232.6 510.5L1231.8 508.0L1230.9 507.6L1229.5 508.0L1227.7 509.0L1225.5 508.3L1223.7 506.7L1221.9 506.1L1220.7 504.2L1219.4 501.4L1218.4 501.8L1217.2 501.1L1216.6 501.9L1215.5 501.8L1215.9 502.7L1215.7 503.2L1216.3 504.8L1217.0 506.5L1217.9 507.0L1218.2 507.7L1219.4 508.6L1219.5 509.4L1219.4 510.1L1219.6 510.7L1220.1 511.3L1220.4 512.0L1220.6 512.5L1220.5 511.0L1221.0 509.9L1221.5 509.7L1222.0 510.4L1222.1 511.5L1221.7 512.7L1222.0 513.5L1222.3 513.4L1222.4 513.9L1223.8 513.6L1225.3 513.7L1226.4 513.7L1227.7 512.4L1229.0 511.1L1230.2 509.8L1230.7 509.1L1230.9 509.3L1230.7 510.2L1230.5 510.5L1230.8 512.1L1231.6 513.5L1232.6 514.2L1233.9 514.4L1235.0 514.8L1235.8 516.0L1236.3 516.6L1236.9 516.9L1236.9 517.3L1236.3 518.5L1236.0 519.0L1235.2 519.6L1234.5 520.9L1233.7 520.9L1233.4 521.3L1233.1 522.3L1233.3 523.6L1233.1 523.8L1232.3 523.8L1231.1 524.5L1231.0 525.4L1230.5 525.8L1229.4 525.8L1228.7 526.3L1228.7 527.1L1227.8 527.6L1226.8 527.4L1225.6 528.1L1224.8 528.2L1223.5 528.7L1223.1 529.5L1223.1 530.2L1221.3 530.9L1218.4 531.8L1216.8 533.2L1216.0 533.3L1215.4 533.1L1214.4 533.9L1213.2 534.3L1211.7 534.4L1211.2 534.5L1210.8 535.0L1210.3 535.1L1210.1 535.6L1209.2 535.5L1208.6 535.8L1207.3 535.7L1206.9 534.6L1206.9 533.6L1206.6 533.0L1206.3 531.7L1205.7 530.9L1206.1 530.8L1205.9 529.9L1206.1 529.6L1206.1 528.7L1205.8 528.0L1205.3 527.4L1205.1 526.6L1204.2 525.9L1203.2 524.3L1202.7 522.8L1201.5 521.5L1200.7 521.1L1199.5 519.3L1199.2 517.9L1199.3 516.8L1198.3 514.6L1197.4 513.8L1196.5 513.4L1195.9 512.2L1196.0 511.8L1195.5 510.8L1194.9 510.3L1194.2 508.8L1193.1 507.2L1192.2 505.8L1191.3 505.8L1191.6 504.6L1191.7 503.9L1191.9 503.1L1191.8 502.8L1190.6 499.2L1191.2 498.5L1191.0 498.3L1191.5 497.4L1191.9 495.7L1192.1 495.2L1192.8 493.4L1193.7 491.8L1193.6 490.1L1194.0 489.2L1193.4 488.1L1194.1 487.3L1193.0 487.5L1191.4 487.0L1190.2 488.3L1187.4 488.5L1186.0 487.3L1184.0 487.2L1183.6 488.2L1182.3 488.4L1180.6 487.2L1178.6 487.3L1177.5 485.0L1176.2 483.7L1177.1 481.9L1175.9 480.8L1178.0 478.5L1180.8 478.5L1181.5 476.6L1185.0 476.9L1187.2 475.4L1189.3 474.7L1192.3 474.6L1195.4 476.3L1198.0 477.3L1200.1 476.9L1201.7 477.1Z M1177.8 477.9L1176.3 479.2L1175.7 478.1L1175.5 477.5L1175.8 477.2L1176.4 475.5L1175.6 474.9L1177.7 474.0L1179.3 474.7L1179.5 475.7L1181.1 476.4L1180.7 477.0L1178.6 477.2Z"/>
<path fill="#e0a33e" d="M1097.6 519.8L1097.9 519.2L1105.1 519.2L1104.7 516.4L1105.2 515.4L1106.9 515.2L1106.8 510.1L1112.7 510.2L1112.8 507.1L1119.6 512.0L1125.7 516.3L1131.8 520.6L1132.2 521.5L1133.4 522.0L1134.2 522.4L1134.2 523.6L1136.2 523.4L1138.8 522.5L1144.0 518.7L1150.2 515.0L1153.1 515.9L1154.1 516.9L1155.4 516.2L1157.3 515.1L1164.5 518.9L1171.7 522.6L1171.8 530.1L1170.2 530.0L1169.4 531.4L1168.9 532.5L1169.3 533.0L1168.7 533.6L1168.9 534.3L1168.5 535.1L1168.3 535.8L1168.9 535.7L1169.3 536.4L1169.3 537.5L1170.0 538.0L1169.9 538.5L1170.2 539.3L1171.2 540.4L1171.2 541.2L1170.9 541.9L1171.0 542.5L1171.7 543.0L1173.0 543.8L1174.0 544.6L1174.0 545.2L1175.3 546.1L1176.0 546.9L1176.5 548.0L1177.8 548.7L1178.1 549.3L1179.2 550.8L1180.0 551.0L1180.5 550.7L1181.4 550.8L1182.4 550.5L1182.8 551.2L1184.4 552.4L1186.3 552.3L1187.8 551.9L1189.0 551.9L1190.1 551.1L1191.3 550.0L1192.5 548.8L1191.4 546.8L1190.6 546.4L1190.3 545.7L1189.4 544.8L1188.2 544.7L1188.9 543.6L1189.8 543.6L1190.1 543.0L1190.1 541.3L1190.6 539.4L1191.5 538.9L1191.7 538.1L1192.4 536.7L1193.5 535.8L1194.3 534.0L1194.6 532.4L1196.7 532.8L1197.2 531.4L1198.3 532.2L1199.4 531.8L1199.8 532.2L1201.1 532.2L1202.7 532.9L1203.1 533.6L1203.9 534.2L1204.7 535.3L1205.3 535.9L1204.7 536.7L1204.0 537.6L1204.2 538.1L1204.2 538.6L1205.2 538.7L1205.6 538.5L1206.1 538.9L1205.7 539.5L1206.3 540.5L1207.0 541.4L1207.7 542.1L1213.6 544.2L1215.1 544.2L1210.0 549.7L1207.7 549.8L1206.0 551.1L1204.9 551.1L1204.4 551.7L1202.8 553.8L1202.8 560.4L1203.9 561.8L1202.6 562.6L1202.2 563.3L1201.5 563.5L1201.2 564.8L1200.7 565.5L1200.3 566.7L1199.6 567.3L1198.7 569.5L1198.8 570.6L1200.0 571.2L1200.1 571.7L1199.6 572.8L1199.7 573.4L1199.6 574.2L1200.2 575.4L1200.9 577.2L1201.6 577.6L1201.9 578.4L1201.8 580.3L1202.0 581.9L1202.1 584.8L1202.4 585.7L1201.9 587.1L1201.2 588.4L1200.0 589.6L1198.4 590.3L1196.3 591.2L1194.3 593.2L1193.6 593.6L1192.3 595.0L1191.6 595.4L1191.4 596.8L1192.3 598.2L1192.6 599.4L1192.7 600.0L1193.0 599.9L1192.9 601.8L1192.6 602.7L1193.1 603.1L1192.8 603.9L1192.0 604.6L1190.5 605.3L1188.4 606.4L1187.6 607.1L1187.7 607.9L1188.2 608.1L1188.0 609.1L1187.6 610.6L1187.4 612.3L1186.9 613.3L1185.6 614.3L1184.5 615.7L1184.0 616.7L1183.0 618.3L1181.0 620.5L1179.7 621.7L1178.3 622.7L1176.4 623.6L1175.5 623.7L1175.2 624.3L1174.1 624.0L1173.2 624.4L1171.3 624.0L1170.2 624.2L1169.4 624.1L1167.6 625.0L1166.0 625.3L1164.9 626.2L1164.1 626.2L1163.3 625.4L1162.7 625.4L1161.9 624.4L1161.8 624.7L1161.6 624.1L1161.6 622.9L1161.0 621.4L1161.6 621.0L1161.5 619.4L1160.4 617.4L1159.4 615.6L1158.1 612.9L1159.0 611.9L1159.7 612.5L1160.0 613.3L1160.8 613.5L1162.0 613.9L1162.9 613.7L1164.6 612.7L1164.6 605.2L1165.1 605.5L1166.1 607.4L1166.0 608.6L1166.4 609.3L1167.7 609.1L1168.6 608.2L1169.4 607.6L1169.9 606.6L1170.8 606.2L1171.5 606.4L1172.4 607.0L1173.9 607.1L1175.0 606.6L1175.2 606.0L1175.5 605.0L1176.5 604.9L1177.1 604.1L1177.7 602.8L1179.3 601.3L1181.9 599.9L1180.7 599.0L1179.3 598.7L1178.8 597.5L1178.8 596.8L1178.0 596.6L1175.9 594.5L1175.4 593.3L1175.0 593.0L1174.3 591.5L1174.0 591.2L1173.2 590.7L1172.1 590.7L1170.6 591.1L1167.3 591.9L1162.9 591.6L1161.6 590.7L1154.3 590.7L1154.0 590.9L1152.9 590.0L1151.7 590.0L1150.7 590.3L1149.8 590.7L1149.6 589.5L1149.9 587.8L1150.5 586.1L1150.6 585.3L1151.2 583.6L1151.6 582.8L1152.6 581.6L1153.2 580.8L1153.4 579.4L1153.3 578.4L1152.8 577.7L1152.3 576.6L1151.9 575.5L1151.9 575.1L1152.5 574.4L1151.9 572.6L1151.6 571.4L1150.7 570.2L1150.8 569.9L1150.6 569.3L1150.1 567.9L1148.6 566.0L1150.0 565.0L1149.3 563.8L1149.9 563.4L1151.2 563.1L1151.3 562.3L1152.3 563.2L1153.9 563.3L1154.4 562.4L1154.7 561.2L1154.5 559.8L1153.6 558.7L1154.4 556.6L1153.9 556.3L1152.6 556.4L1152.1 555.5L1152.2 554.7L1152.0 554.6L1150.3 554.8L1149.0 554.7L1146.0 554.7L1146.3 553.2L1145.5 552.0L1144.7 551.7L1144.3 550.9L1143.9 550.6L1143.9 550.1L1142.0 550.8L1141.3 550.7L1140.6 551.1L1139.2 551.1L1138.2 549.9L1137.6 548.6L1136.4 547.4L1135.0 547.4L1133.4 547.4L1131.9 547.6L1130.4 548.0L1127.6 549.1L1126.6 549.7L1124.9 550.3L1123.3 549.7L1122.5 549.8L1121.2 549.4L1120.1 549.4L1117.9 549.7L1116.7 550.3L1114.9 550.9L1114.5 550.9L1114.0 550.9L1112.2 550.0L1110.5 548.6L1109.0 547.6L1107.8 546.5L1107.3 546.3L1106.0 545.6L1105.0 544.6L1104.7 544.0L1104.5 542.6L1103.7 541.5L1103.0 540.8L1102.5 540.5L1102.1 540.2L1101.9 539.4L1101.6 539.0L1101.1 538.7L1100.1 537.9L1099.3 537.8L1098.9 537.2L1098.9 537.0L1098.4 536.6L1098.3 536.2L1098.0 534.7L1098.2 533.9L1097.4 532.5L1096.5 531.8L1097.3 531.4L1098.2 530.1L1098.7 529.1L1098.5 528.1L1099.0 527.2L1099.2 525.4L1099.0 523.5L1098.8 522.6L1099.0 521.6L1098.5 520.7Z M1218.3 581.6L1218.8 582.4L1219.3 583.6L1219.6 585.9L1220.0 586.7L1219.8 587.6L1219.5 588.2L1218.9 587.1L1218.6 587.6L1218.9 589.0L1218.7 589.9L1218.2 590.3L1218.1 591.9L1217.4 594.1L1216.5 596.8L1215.4 600.5L1214.7 603.2L1213.9 605.5L1212.4 606.0L1210.8 606.8L1209.8 606.3L1208.3 605.6L1207.8 604.6L1207.7 602.8L1207.1 601.2L1206.9 599.8L1207.2 598.4L1208.1 598.1L1208.1 597.4L1208.9 596.0L1209.1 594.7L1208.7 593.8L1208.3 592.6L1208.2 590.9L1208.8 589.8L1209.1 588.6L1210.0 588.5L1211.0 588.1L1211.7 587.8L1212.5 587.8L1213.5 586.7L1215.0 585.5L1215.5 584.6L1215.3 583.8L1216.1 584.0L1217.1 582.7L1217.1 581.6L1217.7 580.8Z"/>
<path fill="#db7a36" d="M872.9 380.6L876.3 381.1L879.2 383.7L881.0 384.2L882.6 382.2L884.8 380.6L887.5 381.1L890.3 379.0L893.2 377.5L894.4 379.6L895.7 378.5L896.2 375.8L897.5 376.4L900.4 381.1L903.0 377.5L903.1 381.7L905.3 380.6L906.0 379.0L908.2 379.6L911.1 381.7L915.3 383.7L917.8 384.7L919.6 384.2L922.0 386.7L919.4 389.1L922.7 390.1L927.6 389.6L929.2 388.6L931.1 391.5L933.0 389.1L931.2 387.2L932.3 385.5L934.6 385.2L936.0 384.7L937.6 385.7L939.4 388.6L941.4 388.2L944.5 390.6L947.4 389.6L950.1 389.6L949.7 386.7L951.4 385.7L954.3 387.7L954.3 392.0L955.3 388.2L956.8 388.2L957.7 383.2L955.7 380.1L953.5 378.0L953.7 372.0L955.9 368.0L958.2 368.5L960.1 371.4L962.6 377.5L961.0 380.1L964.4 381.1L964.2 386.2L966.8 382.2L968.9 385.7L968.4 389.1L970.1 392.5L972.0 389.1L973.3 384.7L973.5 379.0L976.0 379.6L978.7 380.1L981.1 382.7L981.3 385.2L979.9 388.2L981.1 390.6L980.9 392.9L977.5 396.1L974.9 396.6L972.9 395.2L972.4 397.5L970.8 401.4L970.2 403.2L968.0 406.1L965.5 406.5L964.1 408.2L963.9 410.6L961.9 411.4L959.5 414.5L957.7 418.7L957.0 421.6L956.8 425.9L959.5 426.3L960.2 429.7L961.2 432.1L963.7 431.4L967.1 432.9L968.9 434.1L970.2 435.7L972.4 436.7L974.4 437.9L977.3 438.3L979.3 438.6L979.1 441.1L979.6 444.2L980.9 447.5L983.6 450.4L985.1 449.5L986.0 446.3L985.1 441.7L983.8 439.8L986.7 438.6L988.7 436.3L989.8 434.1L989.6 431.7L988.3 428.9L986.2 426.3L988.3 422.5L987.4 419.1L986.9 413.3L988.2 412.4L991.2 413.3L993.1 413.7L994.7 413.0L996.3 414.1L998.5 416.4L999.0 417.9L1002.3 417.9L1002.3 421.3L1002.9 425.7L1004.5 426.3L1005.9 428.3L1008.5 426.3L1010.3 422.4L1011.4 420.9L1012.8 424.1L1015.2 428.3L1017.2 432.5L1016.5 434.7L1018.8 436.3L1020.4 438.3L1023.4 439.1L1024.6 440.2L1025.3 442.6L1026.6 443.1L1027.4 444.2L1027.5 447.6L1026.2 448.6L1025.0 449.8L1021.9 450.7L1019.7 453.2L1016.6 453.5L1012.6 453.0L1009.9 453.0L1008.1 453.2L1006.7 455.2L1004.3 456.3L1001.7 460.1L999.6 462.6L1001.0 462.0L1004.0 458.5L1007.8 456.3L1010.5 456.0L1012.1 457.4L1010.5 459.1L1011.0 462.0L1011.6 464.1L1013.9 465.4L1017.0 464.9L1018.8 462.0L1018.9 463.9L1020.1 464.9L1017.9 466.5L1013.8 468.1L1012.0 469.1L1009.9 471.0L1008.7 470.8L1008.5 468.5L1011.7 466.5L1008.8 466.6L1006.8 466.9L1005.6 465.4L1005.6 461.8L1004.8 461.1L1003.6 461.5L1003.0 460.8L1001.6 462.8L1001.0 464.9L1000.4 466.1L999.6 466.5L998.9 467.2L995.6 467.2L992.8 467.2L992.0 467.8L990.0 469.5L989.3 470.8L985.8 470.8L985.0 471.1L985.3 471.6L985.4 472.6L983.0 473.8L981.1 474.3L979.1 475.5L978.6 475.5L978.0 475.2L977.8 474.5L978.2 473.7L979.0 472.3L979.6 470.9L979.2 468.7L978.8 466.3L976.9 465.2L976.9 464.4L976.0 463.9L975.9 463.3L975.1 463.5L974.8 463.0L974.6 462.3L973.2 461.5L971.7 460.5L970.0 459.5L968.3 458.5L966.6 459.3L966.0 459.3L963.8 458.6L962.3 459.0L960.6 458.1L958.7 457.7L957.5 457.5L956.9 457.0L956.6 455.5L956.0 455.5L956.0 456.6L947.2 456.6L938.1 456.6L929.1 456.6L920.0 456.6L910.9 456.6L905.5 456.6L902.0 453.9L900.7 452.7L897.4 451.4L896.4 448.9L896.7 447.1L894.4 445.8L894.1 443.4L891.9 441.1L891.8 439.5L892.8 438.0L892.8 436.0L889.7 433.9L886.6 427.7L883.7 424.5L882.8 422.7L881.0 424.0L879.2 425.9L876.5 422.0L874.7 421.0L872.9 420.9L872.9 410.6L872.9 397.9Z M904.6 458.0L903.7 458.2L900.6 457.2L898.4 455.2L896.4 453.8L895.7 451.5L897.7 452.1L900.4 453.0L901.1 453.8L902.0 455.2L903.9 456.3Z M887.9 441.9L889.7 441.7L889.2 445.1L890.6 447.5L888.8 446.3L887.2 443.9L887.0 441.4Z M1026.8 451.8L1025.5 454.4L1026.8 453.4L1027.9 454.1L1027.3 454.9L1029.0 455.8L1029.7 455.0L1031.5 455.9L1031.0 458.0L1032.2 457.4L1032.4 458.8L1033.0 460.7L1032.2 462.9L1031.5 463.1L1030.2 462.6L1030.7 460.4L1030.2 460.0L1028.1 462.3L1027.0 462.3L1028.2 461.0L1026.5 460.4L1024.6 460.4L1021.0 460.4L1020.8 459.6L1021.9 458.7L1021.1 458.0L1022.6 456.3L1024.5 451.8L1025.6 450.1L1027.2 449.1L1028.1 449.2L1027.7 450.1Z M1012.5 462.0L1013.1 463.2L1014.4 463.6L1016.1 463.5L1015.2 464.6L1014.5 464.7L1012.2 463.6L1011.8 462.7Z M1011.6 454.2L1012.2 453.9L1014.5 454.7L1016.4 455.8L1016.5 456.3L1015.5 456.4L1013.2 455.5Z M974.0 399.4L974.4 401.4L975.4 400.7L976.4 401.8L978.4 403.3L980.5 404.6L980.6 406.6L982.0 406.3L983.3 407.6L981.7 408.9L978.8 408.0L977.8 406.1L976.0 408.3L973.4 410.4L972.8 408.0L970.4 408.4L971.9 406.4L972.2 403.1L972.8 399.1Z M978.0 411.0L980.0 411.0L980.0 411.8L977.9 413.9L976.6 413.8L976.2 412.8Z M982.9 414.1L983.6 413.0L984.4 413.1L984.7 413.9L984.1 415.9L983.3 415.6L982.8 414.4Z M1016.4 394.0L1015.8 397.2L1012.6 402.3L1010.4 400.4L1007.5 396.2L1005.2 396.8L1005.0 399.3L1006.9 401.8L1009.3 403.8L1010.1 404.9L1011.2 409.0L1010.6 411.9L1008.3 410.8L1003.8 407.5L1006.4 411.1L1008.2 413.4L1008.5 414.8L1003.6 413.2L999.7 410.9L997.5 409.0L998.2 407.8L995.5 405.7L992.8 403.7L992.8 404.9L987.6 405.6L986.1 404.1L987.3 401.0L990.7 400.9L994.4 400.4L993.8 398.8L994.4 396.5L996.8 392.1L996.3 389.9L995.6 388.3L992.8 386.0L989.1 384.3L990.3 382.9L988.4 379.7L986.8 379.4L985.3 377.6L984.4 379.2L981.1 379.9L974.5 378.7L970.7 377.1L967.7 376.3L966.2 374.4L968.1 371.9L965.5 371.9L964.9 366.0L966.3 360.5L968.2 357.9L972.9 356.3L971.6 360.3L973.0 364.2L974.7 359.2L979.2 356.6L982.4 363.1L982.1 367.0L985.7 365.3L987.4 362.9L991.4 366.0L993.9 368.7L994.1 371.2L997.5 369.9L999.4 373.5L1003.8 375.7L1005.4 377.9L1007.1 382.7L1003.7 385.1L1008.0 388.3L1010.9 389.4L1013.5 393.7Z M937.4 363.4L939.1 373.1L945.4 378.4L945.2 380.7L942.2 381.1L943.4 383.1L942.8 385.0L939.5 384.2L936.4 382.8L934.3 383.1L930.9 384.8L926.3 385.6L923.1 386.0L922.1 383.6L919.6 382.3L918.0 382.8L915.8 378.7L917.0 378.1L919.8 377.2L922.3 377.5L924.7 376.5L921.2 375.3L917.3 375.7L914.7 375.6L913.8 373.6L918.0 371.3L915.2 371.4L912.0 369.9L913.5 365.5L914.8 363.1L919.6 359.4L921.5 360.6L920.6 363.5L924.6 361.6L927.2 364.7L929.2 361.6L930.9 363.6L932.3 369.4L933.2 367.0L932.0 360.8L933.6 359.8L935.4 360.8Z M910.1 371.0L905.3 373.6L904.4 371.2L900.2 368.1L901.0 365.7L902.2 361.2L903.8 357.0L902.0 353.0L908.1 352.0L910.7 353.4L915.4 353.7L917.1 355.6L919.1 358.3L916.8 360.0L912.3 364.3L910.1 368.4Z M946.5 356.0L948.7 357.4L951.9 356.5L952.4 358.4L950.7 361.4L953.5 364.0L953.1 369.3L950.2 371.6L948.4 371.1L944.4 359.1Z M959.5 362.8L957.6 367.3L955.5 367.0L954.4 361.7L954.4 358.6L955.3 355.9L957.2 354.1L960.9 354.3L964.4 355.9L961.7 361.5Z M949.8 380.1L952.3 379.3L953.4 380.2L954.0 381.2L955.1 383.1L954.0 384.9L951.5 383.4L950.0 384.0L947.6 381.7Z M990.9 387.2L992.3 388.6L992.3 390.7L992.1 391.3L990.9 392.7L988.9 392.9L988.5 390.6L989.2 387.9Z M983.9 362.6L981.9 359.3L981.9 357.0L982.8 356.5L987.0 357.2L990.1 360.7L990.3 362.4Z M932.3 339.4L933.0 342.0L934.6 340.8L936.5 341.1L936.9 344.8L935.7 348.1L929.6 349.2L925.0 352.2L922.3 352.4L922.0 350.1L925.8 347.0L917.6 347.9L915.1 346.6L917.5 339.4L919.3 337.3L924.4 339.9L927.6 344.2L930.7 344.8L928.2 337.7L929.8 334.8Z M917.8 327.8L917.6 334.1L916.2 336.9L914.5 337.3L911.1 340.5L908.2 341.7L905.8 340.0L908.8 334.3L912.6 329.0L915.3 329.0Z M951.3 339.0L951.4 342.9L950.5 348.2L947.5 348.9L945.6 347.7L945.6 343.6L942.7 344.2L942.5 338.3L944.5 338.6L947.2 335.9L949.8 336.4Z M958.8 348.3L957.8 351.0L955.1 350.5L953.0 348.7L953.9 345.5L956.5 343.5L958.1 346.0Z M983.8 348.7L982.6 350.5L979.9 352.0L977.6 351.2L972.4 352.2L968.7 352.4L965.8 351.5L960.9 349.3L960.3 345.4L960.1 341.8L958.3 338.5L954.5 337.6L952.4 335.1L953.1 331.9L956.8 332.3L958.8 334.9L962.4 334.9L964.0 337.5L963.6 340.4L965.6 342.0L966.8 343.8L969.2 344.1L971.9 344.8L974.8 343.1L978.5 342.6L981.4 343.1L983.3 345.8Z M970.7 309.2L972.9 312.4L970.4 315.3L967.1 322.2L963.9 322.8L960.1 321.8L958.2 318.0L958.2 314.6L959.6 312.0L956.3 312.1L954.3 308.7L953.2 304.0L954.4 299.3L955.7 295.8L957.5 295.0L956.7 292.3L961.0 291.7L963.3 297.9L966.3 300.3L969.3 302.3Z M1004.3 266.9L1009.1 268.1L1013.0 270.0L1016.4 273.9L1016.3 277.6L1011.9 283.3L1007.5 285.9L1005.8 288.8L1009.8 288.6L1005.5 295.9L1002.5 299.0L999.4 307.8L995.7 309.5L994.5 311.5L989.1 312.6L991.6 313.8L990.3 315.5L991.8 320.0L990.1 323.2L987.3 325.6L986.4 329.0L983.9 331.4L984.1 333.3L987.2 333.0L987.3 334.9L982.4 339.6L977.7 337.5L972.4 338.7L969.7 337.7L966.2 337.3L966.0 333.6L969.4 331.7L968.5 325.6L969.6 325.0L974.4 328.7L972.0 323.2L969.0 321.5L970.5 317.9L973.7 315.7L974.2 312.3L971.6 308.4L970.9 303.1L975.8 303.5L977.3 304.7L980.1 300.8L976.0 299.5L969.7 300.1L966.5 296.3L965.0 291.7L962.8 288.1L962.4 283.9L965.1 281.3L967.3 280.9L970.8 278.7L973.5 273.6L975.7 274.3L977.7 278.2L979.1 270.6L981.5 268.2L984.7 266.6L990.3 266.0L991.2 267.6L996.5 265.0L1000.4 266.0Z M947.1 321.9L947.8 325.6L944.8 324.6L941.8 321.8L937.8 321.4L939.6 318.7L937.4 316.4L937.2 312.8L940.8 314.0L945.7 317.6Z M954.8 324.2L952.1 326.1L950.6 324.1L949.8 320.7L949.7 316.9L952.0 317.3L953.1 317.8L955.2 321.0Z M929.7 319.4L927.5 321.1L924.5 321.1L924.5 319.9L926.3 317.1L927.3 317.6Z M928.7 327.4L925.3 329.8L922.7 327.1L924.1 324.3L926.8 323.5L929.3 324.9Z M916.1 496.3L916.9 498.4L918.4 501.3L920.0 503.0L921.4 504.6L920.7 506.4L922.5 508.7L924.9 510.0L925.1 512.0L926.2 513.0L927.4 514.2L929.1 516.3L930.1 515.5L930.1 515.1L928.7 513.4L927.4 512.4L926.7 510.6L926.2 508.6L925.1 507.5L924.0 506.3L923.4 505.1L923.1 504.2L920.5 501.3L920.2 498.8L920.4 497.9L923.4 499.2L924.0 501.7L925.1 503.8L926.9 505.9L928.3 507.5L929.4 508.5L930.3 510.8L932.0 511.6L932.9 513.0L934.7 514.4L936.3 516.3L937.6 519.1L937.2 520.2L936.9 521.0L938.1 523.1L940.1 524.3L940.8 525.0L943.7 525.8L945.4 527.1L947.7 528.1L949.2 528.3L952.1 529.6L953.4 530.1L955.7 529.2L956.8 529.0L959.2 530.2L961.3 532.1L961.3 530.8L962.1 529.3L964.5 529.3L964.5 528.6L962.7 527.0L963.5 527.0L963.5 526.0L966.9 526.0L968.4 524.7L969.3 525.1L970.0 522.7L969.7 522.5L971.1 519.3L970.6 518.9L968.0 518.9L964.8 519.8L964.4 522.0L963.9 523.1L962.8 523.9L961.7 524.3L960.2 524.7L957.3 525.4L954.6 524.1L953.4 522.0L952.3 520.6L951.2 517.1L951.0 516.1L951.4 513.4L952.4 510.2L951.7 510.3L950.5 509.8L948.5 508.3L948.1 506.9L947.0 505.7L945.4 503.0L944.2 502.2L942.7 502.2L941.6 503.8L939.0 502.6L938.1 500.5L935.4 498.0L932.3 498.0L932.3 498.9L927.2 498.9L920.4 496.0L920.4 496.4Z M961.3 532.1L963.1 533.3L965.1 533.7L966.5 534.1L968.0 534.7L969.3 534.3L969.5 535.2L970.2 535.1L971.7 537.3L973.1 538.6L972.9 540.3L974.2 541.4L975.0 541.3L976.9 542.7L977.1 543.4L978.1 543.8L978.3 544.1L980.4 544.0L980.8 544.8L981.8 545.7L982.7 545.6L983.5 545.1L982.5 544.1L983.6 542.6L984.2 542.5L986.0 542.9L986.8 543.7L987.3 545.7L988.0 544.8L988.3 543.0L987.0 542.0L985.2 541.4L983.6 541.8L981.5 542.8L980.4 542.4L979.5 542.0L978.8 541.4L977.3 539.8L976.8 538.8L976.8 536.3L977.1 535.3L977.1 534.0L977.7 531.3L977.3 530.8L975.5 529.7L974.1 529.6L972.6 529.4L970.9 529.9L969.1 529.7L968.5 529.9L968.0 529.7L967.3 529.6L966.7 529.6L966.9 527.5L966.9 526.0L963.5 526.0L963.5 527.0L962.7 527.0L964.5 528.6L964.5 529.3L962.1 529.3L961.3 530.8Z M998.5 522.3L998.7 522.0L1000.1 522.0L1001.2 522.5L1001.7 522.5L1002.0 523.1L1003.0 523.1L1002.9 523.7L1003.7 523.7L1004.6 524.4L1004.0 525.2L1003.1 524.8L1002.3 524.9L1001.7 524.8L1001.3 525.1L1000.6 525.3L1000.4 524.8L999.8 525.1L999.0 526.4L998.6 526.1L998.5 525.5L998.5 525.0L998.0 524.4L998.5 524.1L998.6 523.4Z M988.3 543.0L989.2 543.1L990.5 541.8L991.3 541.6L991.3 541.0L991.6 539.4L992.7 538.6L993.8 538.5L994.0 538.2L995.4 538.3L996.8 537.4L997.5 537.0L998.4 536.1L999.0 536.2L999.5 536.7L999.2 537.3L998.0 537.6L997.5 538.5L996.9 539.1L996.3 539.7L996.1 541.1L995.6 542.1L996.5 542.2L996.8 543.1L997.2 543.5L997.3 544.2L997.1 544.9L997.2 545.3L997.6 545.5L998.0 546.1L1000.4 545.9L1001.4 546.1L1002.7 547.7L1003.4 547.5L1004.7 547.6L1005.8 547.4L1006.4 547.7L1006.1 548.7L1005.7 549.3L1005.5 550.6L1005.9 551.8L1006.4 552.4L1006.5 552.8L1005.6 553.7L1006.2 554.1L1006.7 554.7L1007.2 556.5L1008.2 557.5L1009.7 557.4L1010.0 556.8L1011.4 556.4L1012.1 556.1L1012.3 555.3L1013.6 554.8L1013.5 554.4L1012.0 554.3L1011.7 553.1L1011.8 551.9L1011.0 551.4L1011.3 551.3L1012.7 551.5L1014.1 552.0L1014.6 551.5L1015.9 551.3L1018.0 550.6L1018.6 549.9L1018.4 549.4L1019.3 549.3L1019.8 549.7L1019.5 550.5L1020.1 550.8L1020.5 551.6L1020.0 552.3L1019.8 553.8L1020.2 554.7L1020.3 555.6L1021.5 556.4L1022.4 556.5L1022.6 556.2L1023.1 556.1L1024.0 555.8L1024.5 555.3L1025.6 555.4L1026.0 555.4L1027.0 555.5L1027.1 555.1L1026.8 554.8L1027.0 554.2L1027.7 554.4L1028.6 554.2L1029.6 554.6L1030.4 555.0L1031.0 554.5L1031.4 554.6L1031.6 555.1L1032.5 555.0L1033.2 554.3L1033.8 552.9L1034.8 551.3L1035.5 551.3L1035.9 552.2L1036.9 555.4L1037.9 555.6L1037.9 556.9L1036.6 558.4L1037.1 558.9L1040.3 559.2L1040.4 561.0L1041.8 559.9L1044.1 560.5L1047.1 561.6L1048.0 562.7L1047.7 563.7L1049.8 563.1L1053.3 564.1L1056.0 564.0L1058.7 565.5L1061.0 567.5L1062.4 568.1L1064.0 568.2L1064.6 568.7L1065.2 571.0L1065.5 572.1L1064.8 575.2L1063.9 576.4L1061.3 578.9L1060.2 581.0L1058.8 582.6L1058.4 582.7L1057.9 584.0L1058.0 587.6L1057.3 591.7L1056.7 592.5L1056.4 595.1L1054.6 597.6L1054.3 599.6L1052.8 600.4L1052.4 601.6L1050.4 601.6L1047.5 602.4L1046.3 603.2L1044.2 603.8L1042.1 605.4L1040.6 607.4L1040.3 608.9L1040.6 610.0L1040.3 612.1L1039.9 613.1L1038.6 614.2L1036.6 617.9L1035.0 619.6L1033.7 620.6L1032.9 622.7L1031.7 623.9L1030.9 625.3L1028.9 626.5L1027.6 626.1L1026.6 626.3L1024.9 625.4L1023.7 625.4L1022.6 624.2L1022.4 625.4L1024.7 627.3L1024.5 628.8L1025.6 629.8L1025.5 630.9L1023.8 633.8L1021.1 635.1L1017.5 635.5L1015.5 635.3L1015.9 636.7L1015.5 638.5L1015.8 639.7L1014.7 640.5L1012.9 640.8L1011.1 640.0L1010.4 640.6L1010.7 643.0L1011.9 643.7L1012.9 643.0L1013.4 644.2L1011.8 645.0L1010.3 646.6L1010.1 649.1L1009.6 650.5L1007.9 650.5L1006.5 651.8L1006.0 653.7L1007.7 655.7L1009.5 656.2L1008.9 658.6L1006.7 660.2L1005.5 663.4L1003.9 664.5L1003.1 665.9L1003.7 668.9L1004.9 670.6L1004.2 670.4L1002.6 670.4L1001.7 671.2L1000.0 672.2L999.8 675.1L999.0 675.2L996.9 674.1L994.9 672.1L992.6 670.3L992.0 668.5L992.6 666.8L991.6 664.9L991.4 660.1L992.2 657.5L994.1 655.4L991.4 654.7L993.1 652.3L993.7 648.1L995.7 649.0L996.7 643.8L995.4 643.2L994.9 646.2L993.7 645.9L994.3 642.3L994.9 637.9L995.7 636.3L995.2 634.0L995.1 631.5L995.8 631.4L997.0 627.8L998.2 624.2L999.0 621.0L998.6 617.8L999.1 616.1L998.9 613.5L999.9 611.0L1000.3 607.1L1000.9 602.9L1001.4 598.5L1001.3 595.4L1000.9 592.7L999.1 591.5L998.9 590.8L995.3 588.9L992.1 586.8L990.7 585.7L989.9 584.1L990.2 583.6L988.7 581.1L986.9 577.7L985.2 574.1L984.4 573.2L983.9 571.9L982.5 570.7L981.2 570.0L981.8 569.1L980.9 567.4L981.5 566.1L982.9 565.0L983.9 563.6L983.5 562.8L982.8 563.7L981.7 562.9L982.1 562.4L981.8 560.7L982.4 560.4L982.7 559.3L983.4 558.1L983.3 557.4L984.3 557.0L985.5 556.3L985.3 555.7L986.0 555.6L985.9 554.7L986.3 554.0L987.2 553.9L988.0 552.8L988.7 551.8L988.0 551.4L988.3 550.3L987.9 548.7L988.3 548.2L988.0 546.6L987.3 545.7L988.0 544.8Z M1020.1 543.6L1021.3 544.2L1022.5 545.4L1022.5 546.4L1023.2 546.4L1024.2 547.3L1024.9 548.0L1024.6 549.6L1023.5 550.1L1023.6 550.5L1023.3 551.4L1024.1 552.8L1024.6 552.8L1024.9 553.8L1026.0 555.4L1025.6 555.4L1024.5 555.3L1024.0 555.8L1023.1 556.1L1022.6 556.2L1022.4 556.5L1021.5 556.4L1020.3 555.6L1020.2 554.7L1019.8 553.8L1020.0 552.3L1020.5 551.6L1020.1 550.8L1019.5 550.5L1019.8 549.7L1019.3 549.3L1018.4 549.4L1017.2 548.0L1017.6 547.5L1017.6 546.6L1018.7 546.3L1019.2 546.0L1018.6 545.3L1018.7 544.7Z M1004.1 671.5L1004.8 672.8L1005.7 675.1L1008.0 677.0L1010.6 677.8L1009.7 679.3L1008.0 679.5L1007.1 678.4L1006.0 678.3L1004.1 678.3L1003.0 680.3L1001.7 679.3L999.8 678.9L997.5 677.1L995.6 675.5L993.1 672.1L994.6 672.7L997.2 674.7L999.6 675.8L1000.5 674.4L1001.1 672.3L1002.8 671.1Z"/>
<path fill="#6282ee" d="M872.9 380.6L868.1 377.7L864.3 378.0L860.2 376.4L855.3 376.2L852.5 374.0L848.7 374.7L844.6 371.1L842.0 374.2L838.4 375.8L835.0 376.9L832.6 381.7L830.4 384.2L827.2 384.3L827.5 388.6L830.4 390.6L831.7 392.9L835.3 397.0L831.5 397.5L828.6 395.5L823.7 399.4L826.8 403.6L829.5 404.6L833.9 404.2L836.6 405.7L837.0 407.3L835.7 408.8L833.3 408.6L830.1 410.0L829.3 411.8L827.3 416.4L828.8 420.2L831.2 422.4L833.9 422.0L835.0 423.4L834.8 426.6L837.7 425.9L840.2 427.7L843.8 425.9L842.9 428.0L841.1 431.7L838.4 434.4L835.1 436.0L832.8 439.8L829.7 440.8L829.5 440.2L833.1 438.3L836.6 437.3L839.1 437.0L841.8 434.1L845.1 431.1L848.9 428.5L850.6 426.1L848.9 424.1L851.8 421.6L853.5 419.4L855.4 417.3L856.0 418.7L853.5 425.0L857.1 423.1L861.8 418.8L863.8 419.4L864.0 420.3L867.4 422.0L871.9 422.4L874.8 423.6L878.7 427.3L881.0 428.3L883.7 428.3L886.6 431.7L889.2 435.7L891.9 437.9L892.8 436.0L889.7 433.9L886.6 427.7L883.7 424.5L882.8 422.7L881.0 424.0L879.2 425.9L876.5 422.0L874.7 421.0L872.9 420.9L872.9 410.6L872.9 397.9Z M952.4 510.2L951.9 507.1L953.4 505.3L955.7 504.0L956.8 502.8L958.4 502.4L960.8 502.7L962.4 502.4L965.0 503.6L966.4 503.5L966.4 501.9L966.8 501.1L968.2 500.9L969.9 501.2L971.8 500.9L973.8 502.4L976.0 501.5L976.7 501.9L978.2 503.6L978.6 504.8L978.2 506.1L979.5 508.5L980.4 510.2L981.3 511.6L982.7 511.6L983.3 509.5L983.3 508.1L982.5 505.9L982.5 504.9L981.1 501.7L980.7 500.3L981.1 498.8L982.9 496.4L984.9 495.0L986.1 493.5L987.1 493.4L988.2 492.1L990.1 491.4L991.2 489.8L990.9 487.5L990.7 485.9L991.2 484.4L992.4 483.3L992.4 482.4L991.8 481.4L992.2 481.3L992.7 482.0L994.0 480.3L994.4 478.5L994.3 478.1L998.0 477.2L998.1 476.4L999.6 476.0L1000.5 476.0L1001.6 475.7L1001.4 474.7L1000.5 474.9L1000.1 474.0L1000.1 472.6L1000.5 472.0L1001.4 470.5L1003.2 469.8L1005.2 469.0L1006.8 468.0L1006.8 466.9L1005.6 465.4L1005.6 461.8L1004.8 461.1L1003.6 461.5L1003.0 460.8L1001.6 462.8L1001.0 464.9L1000.4 466.1L999.6 466.5L998.9 467.2L995.6 467.2L992.8 467.2L992.0 467.8L990.0 469.5L989.3 470.8L985.8 470.8L985.0 471.1L985.3 471.6L985.4 472.6L983.0 473.8L981.1 474.3L979.1 475.5L978.6 475.5L978.0 475.2L977.8 474.5L978.2 473.7L979.0 472.3L979.6 470.9L979.2 468.7L978.8 466.3L976.9 465.2L976.9 464.4L976.0 463.9L975.9 463.3L975.1 463.5L974.8 463.0L974.6 462.3L973.2 461.5L971.7 460.5L970.0 459.5L968.3 458.5L966.6 459.3L966.0 459.3L963.8 458.6L962.3 459.0L960.6 458.1L958.7 457.7L957.5 457.5L956.9 457.0L956.6 455.5L956.0 455.5L956.0 456.6L947.2 456.6L938.1 456.6L929.1 456.6L920.0 456.6L910.9 456.6L905.5 456.6L906.2 458.5L905.3 459.2L902.4 458.8L903.5 462.3L903.9 463.9L903.5 468.0L903.0 472.3L903.0 474.7L903.3 476.9L903.0 478.8L904.0 480.7L904.2 482.0L906.4 484.7L906.4 485.4L907.5 487.4L907.8 488.3L909.8 490.8L909.8 491.9L912.0 492.5L913.6 493.2L913.8 493.7L915.8 495.2L916.1 496.3L920.4 496.4L920.4 496.0L927.2 498.9L932.3 498.9L932.3 498.0L935.4 498.0L938.1 500.5L939.0 502.6L941.6 503.8L942.7 502.2L944.2 502.2L945.4 503.0L947.0 505.7L948.1 506.9L948.5 508.3L950.5 509.8L951.7 510.3Z M851.1 432.0L849.3 433.3L848.3 432.4L848.1 430.9L849.7 429.6L850.7 429.1L851.9 429.4L852.7 430.4Z M817.1 407.4L818.3 408.2L819.4 407.8L820.8 408.9L822.6 409.4L822.5 409.8L821.1 410.7L819.7 409.8L819.1 409.1L817.5 409.3L817.0 409.0Z M826.7 420.6L828.1 420.9L828.3 422.3L827.2 422.9L826.0 422.2L824.9 421.2Z M846.5 523.5L846.2 523.9L845.8 523.6L845.8 523.0L845.5 522.4L845.9 521.8L845.9 521.3L847.1 521.8L847.8 522.7Z M845.5 520.5L844.9 520.7L844.4 520.0L845.2 520.0L845.7 520.3Z M842.7 519.2L841.8 519.2L841.5 518.7L842.0 518.4L842.6 519.3Z M839.6 517.9L839.4 518.1L838.8 517.8L839.2 517.4L839.5 517.5Z"/>
<path fill="#69b78a" d="M1030.7 548.3L1031.3 548.5L1032.6 549.0L1034.5 550.5L1034.8 551.3L1033.8 552.9L1033.2 554.3L1032.5 555.0L1031.6 555.1L1031.4 554.6L1031.0 554.5L1030.4 555.0L1029.6 554.6L1030.1 553.8L1030.3 553.0L1030.6 552.2L1029.9 551.2L1029.7 549.9Z M1118.7 488.5L1117.3 487.9L1116.7 486.7L1115.0 486.3L1114.2 486.9L1112.4 486.8L1112.6 485.0L1112.5 483.6L1111.7 483.4L1111.2 482.5L1111.4 481.0L1112.1 480.1L1112.2 479.2L1112.6 477.7L1112.6 476.7L1112.2 475.9L1112.1 475.0L1112.2 473.3L1111.5 472.2L1114.0 470.4L1116.3 470.9L1118.7 470.9L1120.6 471.3L1122.1 471.1L1125.1 471.2L1126.0 469.7L1126.3 464.6L1124.5 461.9L1123.1 460.5L1120.4 459.5L1120.2 457.5L1122.5 456.9L1125.6 457.6L1125.0 454.4L1126.7 455.6L1128.7 455.2L1130.9 453.4L1131.5 451.1L1133.1 450.5L1134.5 449.9L1135.4 449.2L1137.0 444.8L1139.5 443.5L1141.0 443.6L1141.4 443.0L1142.9 442.8L1143.2 443.5L1144.5 442.0L1144.0 440.8L1144.0 439.0L1143.2 437.2L1143.2 433.9L1143.5 433.0L1144.0 432.0L1145.6 431.8L1146.2 430.9L1147.7 430.0L1147.6 431.7L1147.1 432.8L1147.3 433.7L1148.3 434.2L1147.8 435.4L1147.3 435.1L1146.0 437.4L1146.5 439.0L1146.5 440.2L1148.4 440.9L1148.3 442.0L1150.2 441.4L1151.2 440.6L1153.2 441.8L1154.1 442.8L1155.3 441.9L1158.2 440.4L1160.4 439.4L1162.3 439.9L1162.4 440.7L1164.1 440.7L1164.6 439.3L1167.1 438.3L1166.7 435.6L1166.7 433.1L1167.6 431.0L1169.3 429.9L1170.8 432.4L1172.2 432.3L1172.6 429.7L1172.8 427.7L1172.1 428.1L1171.0 426.9L1170.8 424.9L1173.1 423.9L1175.4 423.4L1177.4 424.0L1179.2 423.9L1179.5 424.5L1178.2 426.5L1178.8 429.7L1178.0 430.8L1178.8 431.6L1179.0 433.2L1179.6 435.1L1177.6 436.4L1176.5 436.9L1176.7 438.4L1175.2 439.4L1174.8 441.2L1172.8 442.3L1171.1 442.3L1171.7 444.8L1171.2 448.0L1171.1 449.3L1172.0 449.2L1173.0 448.4L1174.4 448.3L1176.3 448.5L1178.3 449.2L1179.7 449.3L1180.4 449.7L1181.1 449.2L1181.5 449.9L1183.2 449.7L1183.9 450.0L1184.0 448.6L1184.6 447.9L1186.1 447.7L1186.8 447.9L1187.3 447.2L1187.8 447.3L1189.7 447.0L1190.9 448.7L1190.4 449.3L1190.5 450.2L1192.0 450.4L1192.6 451.6L1192.6 452.2L1194.9 453.2L1196.3 452.7L1197.4 454.0L1198.5 454.0L1201.2 454.9L1201.2 455.7L1200.4 457.2L1200.8 458.7L1200.6 459.6L1198.8 459.8L1197.9 460.5L1197.8 461.8L1196.4 462.0L1195.1 462.8L1193.4 462.9L1191.9 463.9L1192.0 465.6L1192.9 466.2L1194.7 466.0L1194.4 467.0L1192.4 467.4L1189.9 468.9L1188.9 468.4L1189.3 467.2L1187.3 466.4L1187.7 465.9L1189.4 465.0L1188.9 464.4L1186.0 463.8L1185.9 462.8L1184.3 463.1L1183.6 464.6L1182.2 466.5L1182.2 467.1L1181.3 467.7L1180.8 467.5L1180.3 470.5L1179.3 471.6L1178.7 473.3L1179.3 474.7L1177.7 474.4L1175.9 475.2L1176.7 475.8L1176.2 477.3L1175.7 477.6L1174.6 477.5L1173.7 477.3L1171.5 477.9L1172.8 479.3L1171.8 479.6L1170.8 479.6L1169.9 478.4L1169.5 478.9L1169.9 480.3L1170.8 481.5L1170.1 482.0L1171.2 483.0L1172.1 483.7L1172.1 485.0L1170.4 484.4L1170.9 485.6L1169.8 485.8L1170.5 487.8L1169.3 487.8L1167.8 486.9L1167.1 485.0L1166.8 483.5L1166.1 482.4L1165.2 481.1L1165.0 480.4L1165.9 479.3L1166.0 478.5L1166.6 478.2L1166.6 477.5L1167.8 477.3L1168.5 476.8L1169.5 476.8L1169.8 476.4L1170.1 476.3L1170.0 474.7L1169.1 474.0L1169.4 473.6L1169.2 473.3L1169.5 472.5L1170.2 471.8L1169.3 470.7L1169.1 469.8L1169.6 469.2L1169.2 468.7L1168.7 468.6L1167.6 467.8L1167.4 466.8L1166.3 466.2L1166.1 465.4L1165.2 464.3L1164.0 464.2L1162.6 464.9L1163.1 465.9L1163.7 466.6L1163.0 467.6L1162.1 467.0L1160.9 467.1L1159.3 466.6L1158.5 466.7L1158.1 467.2L1157.4 466.6L1157.1 467.7L1157.9 468.9L1158.3 469.7L1159.2 470.6L1159.9 471.2L1160.5 472.2L1162.2 473.1L1162.0 473.6L1160.2 472.7L1159.2 471.8L1157.5 471.0L1156.0 469.2L1156.4 469.0L1155.6 467.9L1155.5 467.0L1154.4 466.6L1153.8 467.8L1153.3 466.9L1153.3 466.0L1153.4 466.0L1153.8 465.7L1152.3 465.3L1150.9 466.3L1150.9 467.5L1150.7 468.3L1151.3 469.6L1153.0 470.8L1153.9 472.9L1156.0 474.8L1157.4 474.8L1157.8 475.4L1157.3 475.9L1158.9 476.7L1160.3 477.5L1161.8 478.7L1162.0 479.1L1161.7 480.0L1160.7 478.9L1159.1 478.5L1158.3 480.0L1159.6 480.9L1159.4 482.1L1158.7 482.3L1157.7 484.2L1156.9 484.4L1156.9 483.7L1157.3 482.5L1157.7 482.0L1157.0 480.6L1156.4 479.4L1155.7 479.1L1155.2 478.1L1154.0 477.7L1153.2 476.7L1151.9 476.6L1150.5 475.5L1148.8 473.9L1147.6 472.5L1147.0 470.0L1146.1 469.7L1144.6 468.8L1143.8 469.2L1142.7 470.4L1142.0 470.6L1140.3 472.0L1136.8 471.3L1134.1 472.1L1133.9 473.6L1134.0 475.0L1132.3 476.6L1130.0 477.1L1129.8 477.9L1128.7 479.3L1128.0 481.2L1128.7 482.5L1127.6 483.5L1127.3 485.0L1125.9 485.5L1124.6 487.2L1120.6 487.2L1119.5 488.0Z M1184.9 380.8L1182.9 377.5L1185.2 376.1L1179.6 372.0L1176.3 373.1L1173.0 372.9L1170.2 377.5L1167.3 377.1L1163.3 379.5L1160.6 383.7L1158.3 385.9L1155.3 389.6L1150.9 398.5L1147.6 404.5L1144.0 408.8L1139.2 412.1L1137.5 414.6L1138.1 423.2L1138.8 427.0L1141.3 428.8L1143.7 428.0L1147.3 423.9L1148.5 426.1L1149.9 430.9L1151.4 434.7L1152.0 437.8L1154.1 437.6L1155.1 435.0L1157.3 435.4L1158.3 432.3L1159.0 426.5L1160.9 425.7L1162.6 421.7L1160.8 419.6L1159.5 417.0L1160.9 411.6L1164.4 408.1L1167.2 404.8L1167.0 402.2L1168.7 399.2L1171.8 397.9L1174.4 400.0L1174.6 401.8L1173.3 402.7L1169.2 407.3L1167.6 409.8L1166.7 412.1L1167.6 415.6L1167.2 419.4L1168.9 420.6L1170.0 422.5L1172.9 421.8L1176.1 420.5L1179.4 420.2L1183.3 415.4L1185.0 413.1L1185.6 411.1L1183.0 408.4L1183.7 405.7L1182.1 402.5L1183.3 398.8L1181.2 393.7L1182.9 390.1L1180.1 386.9L1180.3 383.4L1181.8 382.9Z M1156.0 309.1L1156.6 305.5L1159.3 305.2L1161.6 308.8L1167.6 316.1L1163.0 319.8L1162.0 326.2L1160.4 327.9L1159.5 334.7L1157.3 335.0L1153.4 330.0L1155.1 327.0L1152.4 324.6L1148.8 316.9L1147.4 309.3L1152.4 305.6L1153.4 309.2Z M1178.2 305.1L1175.5 310.6L1170.2 311.8L1164.9 310.1L1164.6 307.4L1162.0 307.2L1160.0 302.3L1165.6 299.3L1168.2 301.9L1170.1 298.6L1174.6 301.3Z M1173.3 326.1L1169.3 329.5L1166.1 327.5L1167.3 325.3L1166.2 322.6L1170.0 320.8L1170.7 324.1Z M1151.5 437.0L1150.4 439.5L1148.5 437.8L1148.3 436.4L1150.9 435.3Z M1117.3 442.4L1117.6 444.6L1116.2 447.3L1113.0 449.0L1110.4 448.6L1111.9 445.5L1110.9 442.4L1113.4 440.0L1114.8 438.5L1115.1 440.2L1114.8 441.8L1115.9 441.8Z M1144.4 473.2L1145.5 472.3L1145.8 474.4L1145.2 476.2L1144.4 475.8L1144.0 474.1Z M1144.3 477.4L1145.2 476.7L1146.3 478.4L1146.0 481.5L1145.2 481.3L1144.5 482.1L1143.8 481.5L1143.7 478.6L1143.3 477.3Z M1156.6 483.7L1156.0 485.5L1156.3 486.2L1155.9 487.4L1154.5 486.5L1153.6 486.3L1151.0 485.1L1151.3 483.9L1153.4 484.1L1155.3 483.9Z M1171.5 489.4L1172.5 490.2L1173.9 490.0L1175.2 490.2L1175.2 490.6L1176.2 490.3L1175.9 491.0L1173.3 491.2L1173.4 490.8L1171.1 490.4Z M1203.8 475.9L1204.1 474.8L1203.7 473.1L1202.6 472.3L1201.6 472.0L1201.0 471.2L1201.2 470.9L1202.7 471.3L1205.4 471.7L1207.8 472.9L1208.1 473.4L1209.3 473.0L1210.9 473.5L1211.5 474.5L1212.6 475.1L1212.2 475.4L1213.1 476.7L1212.8 477.0L1211.8 476.9L1210.5 476.2L1210.0 476.6L1207.5 476.9L1205.8 475.8Z"/>
<path fill="#6bb3d1" d="M1240.0 511.8L1242.6 511.5L1245.5 511.5L1248.8 511.1L1250.2 512.6L1250.8 514.1L1252.1 514.6L1254.2 516.2L1254.8 517.0L1253.9 517.7L1256.3 520.1L1257.6 520.3L1260.2 519.1L1260.5 521.0L1260.5 523.3L1261.1 525.7L1261.8 529.4L1263.5 532.0L1263.8 533.2L1264.2 535.5L1265.2 537.3L1265.8 538.2L1266.5 540.0L1267.4 542.6L1269.1 544.3L1269.8 543.8L1270.4 542.5L1272.1 542.0L1271.5 541.4L1272.4 540.0L1273.3 539.9L1273.3 536.8L1274.1 535.0L1274.0 533.5L1273.6 531.0L1274.1 529.6L1275.0 529.5L1276.6 528.8L1277.5 528.3L1277.5 527.5L1279.3 526.2L1280.7 525.0L1282.7 522.8L1285.3 521.5L1286.3 520.3L1286.2 518.9L1288.4 518.5L1289.7 518.5L1289.9 517.8L1290.6 518.0L1291.1 518.2L1291.4 517.8L1292.2 518.2L1292.7 517.1L1292.6 516.3L1294.3 516.4L1295.0 517.5L1295.4 518.5L1295.5 519.5L1296.0 520.5L1297.3 522.0L1298.3 522.3L1298.1 523.0L1299.5 525.2L1299.9 527.0L1299.3 529.3L1300.4 529.8L1301.4 530.0L1303.5 528.6L1304.7 527.6L1305.5 529.2L1305.8 531.6L1306.4 533.8L1307.1 534.8L1307.0 536.8L1307.6 537.9L1307.0 539.3L1307.2 540.7L1306.7 542.5L1306.5 543.6L1306.8 544.6L1307.1 543.6L1308.0 544.4L1308.9 545.5L1309.2 546.4L1310.0 547.1L1310.3 546.7L1311.8 547.5L1311.9 548.5L1313.1 548.2L1313.7 547.5L1312.7 546.6L1311.7 546.3L1310.6 545.3L1310.3 543.7L1309.6 542.0L1308.4 542.0L1308.3 540.6L1308.9 539.0L1309.8 536.3L1310.0 534.3L1311.6 534.3L1311.3 535.7L1312.9 535.7L1314.5 536.5L1315.4 538.5L1316.2 539.4L1317.7 539.7L1319.0 540.7L1318.5 542.0L1319.2 543.1L1321.4 541.4L1322.9 539.9L1325.0 538.7L1326.5 537.5L1326.7 534.2L1325.9 530.8L1324.8 529.3L1323.2 528.1L1321.5 525.6L1320.1 523.6L1320.5 522.3L1322.0 520.4L1324.4 518.8L1322.6 518.3L1321.7 517.5L1322.0 516.3L1320.3 516.0L1319.5 515.2L1317.9 516.3L1316.2 516.5L1314.7 516.5L1313.7 517.0L1312.8 517.3L1313.1 519.5L1312.1 519.5L1311.9 519.0L1311.9 518.2L1309.8 518.5L1308.4 517.7L1309.0 516.0L1307.8 515.7L1307.4 513.8L1305.5 514.2L1305.7 511.8L1307.4 510.1L1307.5 508.5L1307.4 506.9L1306.6 506.4L1306.0 505.2L1305.0 505.3L1303.0 505.0L1303.6 504.2L1302.8 502.9L1301.5 503.8L1300.0 503.2L1297.9 504.6L1296.2 506.1L1294.8 506.4L1294.0 505.8L1293.0 505.8L1291.7 505.3L1290.7 505.8L1289.5 507.3L1289.4 505.7L1288.3 506.1L1286.1 505.9L1284.1 505.5L1282.6 504.6L1281.2 504.2L1280.6 503.2L1279.6 502.9L1277.8 501.5L1276.3 500.9L1275.6 501.4L1273.0 499.9L1271.3 498.5L1270.8 496.2L1272.1 496.5L1272.1 495.4L1271.4 494.3L1271.6 492.5L1269.6 489.9L1266.6 489.0L1266.1 487.2L1264.8 486.2L1264.4 485.5L1262.8 486.9L1260.7 487.1L1258.8 487.6L1257.7 488.6L1258.1 489.5L1258.3 490.6L1257.4 491.6L1257.5 492.4L1257.0 493.2L1255.3 493.1L1256.0 494.6L1254.9 495.1L1254.1 496.4L1254.2 497.7L1253.5 498.3L1252.8 498.1L1251.4 498.4L1251.2 499.0L1249.9 499.0L1248.9 500.2L1248.8 502.0L1246.4 502.8L1245.2 502.7L1244.8 503.1L1243.7 502.8L1241.9 503.2L1238.9 502.1L1239.8 503.2L1240.5 504.4L1242.2 505.3L1242.3 507.2L1243.1 507.5L1243.3 508.4L1240.7 509.5Z M1287.6 455.8L1289.5 455.3L1293.0 452.9L1295.7 451.5L1297.3 452.4L1299.2 452.4L1300.4 453.8L1302.2 453.9L1304.8 454.6L1306.6 452.6L1305.9 450.9L1307.7 447.9L1309.8 449.1L1311.4 449.5L1313.6 450.2L1313.9 452.4L1316.5 453.6L1318.2 453.0L1320.5 452.6L1322.3 453.0L1324.1 454.4L1325.2 455.8L1326.9 455.8L1329.1 456.2L1330.8 455.5L1333.2 455.1L1335.8 453.1L1336.9 453.4L1337.9 454.3L1340.1 454.1L1339.2 456.2L1337.9 459.0L1338.3 460.1L1339.4 459.7L1341.2 460.1L1342.6 459.1L1344.0 460.0L1345.7 461.9L1345.5 462.8L1344.0 462.5L1341.4 462.9L1340.1 463.6L1338.8 465.4L1336.0 466.4L1334.2 467.7L1332.4 467.2L1331.3 467.0L1330.4 468.6L1331.0 469.6L1331.3 470.4L1330.0 471.3L1328.7 472.6L1326.6 473.5L1323.8 473.6L1320.9 474.4L1318.8 475.7L1318.0 475.0L1315.8 475.0L1313.1 473.5L1311.4 473.1L1308.9 473.5L1305.2 472.9L1303.2 472.9L1302.1 471.5L1301.3 469.2L1300.2 468.9L1298.0 467.3L1295.5 466.9L1293.4 466.5L1292.7 465.4L1293.4 462.3L1292.2 460.2L1289.6 459.1L1288.1 457.7Z M1361.2 482.8L1362.8 485.5L1363.2 487.0L1363.2 489.6L1362.6 490.8L1360.9 491.2L1359.5 492.1L1357.8 492.3L1357.6 491.1L1358.0 489.5L1357.2 487.1L1358.5 486.7L1357.3 484.8L1357.4 484.6L1358.2 484.7L1358.9 483.6L1360.2 483.5L1361.0 483.4Z M1384.1 486.2L1383.4 488.0L1383.7 489.1L1382.8 490.7L1380.5 491.7L1377.3 491.8L1374.7 494.4L1373.5 493.5L1373.4 491.9L1370.3 492.3L1368.1 493.4L1366.0 493.4L1367.8 495.0L1366.6 498.7L1365.5 499.6L1364.6 498.7L1365.0 496.8L1363.9 496.2L1363.1 494.7L1364.8 494.1L1365.8 492.7L1367.6 491.5L1369.0 490.0L1372.6 489.4L1374.5 489.8L1376.4 485.8L1377.6 486.9L1380.3 484.6L1381.3 483.7L1382.4 480.9L1382.1 478.2L1382.9 476.7L1384.8 476.2L1385.8 479.6L1385.7 481.5L1384.1 483.8Z M1371.3 492.4L1372.6 492.9L1372.9 493.6L1371.8 494.9L1371.1 494.2L1370.1 494.7L1369.7 496.0L1368.5 495.4L1368.5 494.4L1369.5 493.1L1370.5 493.3Z M1389.4 469.4L1390.7 469.9L1392.0 468.8L1392.4 471.6L1389.7 472.3L1388.1 474.7L1385.3 473.1L1384.3 475.8L1382.3 475.8L1382.0 473.4L1382.9 471.5L1384.8 471.3L1385.4 467.8L1385.9 465.8L1388.0 468.5Z M1276.8 545.1L1276.5 547.0L1275.8 547.5L1274.2 548.0L1273.3 546.5L1273.0 543.9L1273.8 540.9L1275.1 541.9L1275.9 543.2Z M1301.3 548.8L1302.4 548.9L1305.2 549.3L1306.9 551.1L1308.3 552.3L1309.2 553.0L1311.0 555.0L1312.8 555.0L1314.3 556.3L1315.4 557.8L1316.8 558.6L1316.0 560.1L1317.1 560.7L1317.7 560.8L1318.0 562.0L1318.7 563.0L1320.0 563.2L1320.9 564.4L1320.4 566.6L1320.4 569.4L1318.3 569.5L1316.8 567.9L1314.5 566.5L1313.7 565.3L1312.3 563.9L1311.4 562.5L1310.1 560.0L1308.5 558.5L1307.9 556.9L1307.3 555.5L1305.6 554.4L1304.7 552.8L1303.3 551.8L1301.4 549.8Z M1320.8 569.5L1323.0 569.6L1324.4 570.3L1325.2 570.5L1325.4 571.1L1328.9 571.3L1329.3 570.6L1332.7 571.4L1333.3 572.6L1336.1 572.9L1338.3 574.0L1336.2 574.7L1334.2 574.0L1332.6 574.0L1330.7 573.9L1329.0 573.6L1326.9 572.9L1325.6 572.7L1324.8 572.9L1321.5 572.2L1321.2 571.4L1319.5 571.2Z M1342.2 551.3L1341.2 552.9L1342.5 554.6L1342.2 555.5L1344.2 557.2L1342.1 557.4L1341.5 558.6L1341.6 560.3L1339.8 561.5L1339.8 563.3L1339.1 566.1L1338.8 565.4L1336.8 566.3L1336.0 565.1L1334.8 565.0L1333.9 564.5L1331.7 565.1L1331.0 564.2L1329.8 564.3L1328.3 564.1L1328.1 561.7L1327.2 561.2L1326.3 559.6L1326.0 558.0L1326.3 556.4L1327.3 555.2L1327.6 556.4L1328.9 557.4L1330.0 557.0L1331.2 557.2L1332.3 556.2L1333.1 556.1L1334.8 556.6L1336.3 556.2L1337.2 553.7L1337.9 553.0L1338.6 551.0L1340.7 551.0Z M1355.6 556.2L1354.1 558.0L1352.8 558.4L1351.0 558.0L1348.0 558.1L1346.4 558.4L1346.1 559.7L1347.8 561.4L1348.8 560.5L1352.1 559.9L1352.0 560.8L1351.2 560.5L1350.4 561.6L1348.8 562.2L1350.5 564.6L1350.2 565.2L1351.8 567.3L1351.8 568.5L1350.8 569.0L1350.1 568.4L1351.0 566.9L1349.2 567.6L1348.8 567.1L1349.0 566.4L1347.7 565.3L1347.8 563.6L1346.6 564.1L1346.8 566.2L1346.9 568.8L1345.7 569.1L1344.9 568.6L1345.4 566.9L1345.2 565.1L1344.4 565.1L1343.8 563.9L1344.6 562.7L1344.8 561.2L1345.8 558.5L1346.1 557.8L1347.7 556.4L1349.1 557.0L1351.4 557.2L1353.5 557.1L1355.3 555.8Z M1384.1 563.5L1384.1 569.4L1384.1 575.4L1382.6 573.9L1380.8 573.5L1380.3 574.0L1378.0 574.1L1378.8 572.6L1379.9 572.1L1379.5 570.1L1378.6 568.6L1375.1 567.1L1373.6 566.9L1370.8 565.2L1370.3 566.1L1369.6 566.3L1369.2 565.6L1369.2 564.8L1367.8 563.9L1369.8 563.3L1371.1 563.3L1370.9 562.8L1368.2 562.8L1367.5 561.7L1365.9 561.4L1365.1 560.5L1367.6 560.1L1368.5 559.5L1371.4 560.2L1371.7 560.9L1372.2 563.8L1374.1 564.9L1375.6 563.0L1377.7 561.9L1379.3 561.9L1380.8 562.5L1382.2 563.2Z M1360.4 554.9L1360.6 555.8L1361.6 556.0L1361.8 556.8L1361.7 558.3L1360.8 558.1L1360.5 559.3L1361.3 560.2L1360.8 560.4L1360.0 559.3L1359.5 557.0L1359.9 555.5Z M1363.1 563.9L1365.1 564.4L1365.7 565.8L1364.2 565.1L1362.7 564.9L1361.6 565.0L1360.4 564.9L1360.8 564.0Z M1358.5 565.7L1357.3 565.3L1356.9 564.6L1358.8 564.5L1359.2 565.1Z M1355.1 575.0L1355.3 574.6L1356.9 574.1L1358.1 574.1L1358.7 573.8L1359.4 574.1L1358.7 574.6L1356.8 575.4L1355.3 575.9L1354.1 577.3L1352.6 577.7L1352.3 577.5L1352.5 576.8L1353.3 575.7Z M1348.5 574.3L1349.7 574.2L1351.3 573.5L1351.1 574.5L1348.3 575.1L1345.9 574.8L1345.9 574.2L1347.4 573.8Z M1347.5 577.0L1346.9 576.4L1345.9 575.8L1344.2 576.2L1346.6 577.5Z M1342.9 574.0L1344.0 573.9L1344.5 574.7L1342.4 575.0L1341.1 575.3L1340.2 575.2L1340.8 574.2L1341.8 574.2L1342.3 573.5Z M1348.5 524.7L1349.6 525.2L1350.2 524.7L1350.3 525.2L1350.0 526.0L1350.6 527.3L1350.2 528.9L1349.1 529.5L1348.8 531.1L1349.2 532.5L1350.2 532.7L1351.0 532.5L1353.2 533.6L1353.1 534.6L1353.7 535.0L1353.5 535.9L1352.1 535.0L1351.4 534.0L1350.9 534.7L1349.8 533.6L1348.1 533.8L1347.2 533.4L1347.3 532.7L1347.9 532.2L1347.3 531.7L1347.1 532.4L1346.2 531.3L1345.9 530.5L1345.9 528.7L1346.6 529.3L1346.8 526.4L1347.4 524.6Z M1357.6 543.5L1357.8 544.7L1357.9 545.7L1357.3 547.4L1356.6 545.5L1355.8 546.5L1356.4 547.8L1355.9 548.7L1353.7 547.6L1353.2 546.3L1353.8 545.4L1352.6 544.6L1352.1 545.3L1351.2 545.2L1349.9 546.3L1349.6 545.7L1350.3 544.2L1351.4 543.7L1352.4 543.0L1353.0 543.8L1354.4 543.3L1354.7 542.5L1356.0 542.4L1355.9 541.0L1357.3 541.9L1357.5 542.8Z M1345.2 538.0L1345.5 539.6L1344.3 540.6L1343.4 541.8L1340.9 543.6L1341.8 542.3L1343.2 541.2L1344.2 539.9Z M1353.8 535.8L1355.6 535.9L1356.0 536.6L1356.6 538.6L1355.2 538.2L1355.2 538.8L1355.6 539.9L1354.8 540.3L1354.7 539.0L1354.2 538.9L1353.9 537.8L1354.9 538.0L1354.9 537.3Z M1351.7 537.7L1351.7 538.4L1350.9 539.2L1349.7 539.8L1349.6 538.9L1349.8 538.0L1349.5 537.1L1350.6 537.7Z M1353.3 540.1L1352.6 540.7L1352.1 541.8L1351.5 542.4L1350.4 541.1L1350.8 540.6L1351.2 540.1L1351.4 539.0L1352.4 538.8L1352.1 540.1L1353.5 538.3Z M1348.8 534.9L1348.4 536.5L1347.6 535.6L1346.7 534.1L1348.2 534.2Z M1388.8 584.0L1389.4 585.5L1390.6 584.8L1392.1 586.3L1391.9 587.1L1392.3 588.7L1393.5 591.5L1393.3 592.5L1393.9 593.8L1395.9 594.8L1397.2 595.7L1398.4 596.6L1398.1 597.0L1399.2 598.3L1399.9 600.4L1400.6 599.9L1401.3 600.8L1401.8 600.5L1402.1 602.6L1403.4 603.8L1404.2 604.6L1405.7 606.2L1406.2 607.8L1406.2 608.9L1406.1 610.2L1406.9 611.9L1406.8 613.8L1406.5 614.7L1406.0 616.6L1406.1 617.8L1405.7 619.3L1404.9 621.3L1403.6 622.3L1402.9 624.0L1402.3 625.1L1401.8 627.0L1401.1 628.1L1400.6 629.8L1400.4 631.4L1400.5 632.1L1399.4 632.9L1397.4 633.0L1395.7 633.9L1394.9 634.8L1393.8 635.8L1392.3 634.7L1391.2 634.4L1391.5 633.2L1390.5 633.6L1388.9 635.3L1387.3 634.6L1386.3 634.3L1385.3 634.1L1383.5 633.4L1382.3 632.0L1382.0 630.3L1381.6 628.2L1380.7 628.2L1378.9 628.0L1379.5 626.9L1379.1 625.3L1378.2 626.8L1376.6 627.2L1377.5 626.0L1377.8 624.7L1378.5 623.6L1378.4 622.0L1376.9 623.9L1375.8 624.6L1375.1 626.4L1373.6 625.5L1373.7 624.3L1372.6 622.7L1371.6 621.9L1371.9 621.4L1369.6 620.1L1368.4 620.1L1366.6 619.0L1363.4 619.2L1361.0 620.0L1358.9 620.7L1357.2 620.6L1355.3 621.7L1353.7 622.2L1353.4 623.3L1352.7 624.2L1351.2 624.2L1350.0 624.4L1348.4 624.0L1347.1 624.3L1345.9 624.4L1344.8 625.5L1344.3 625.4L1343.4 626.1L1342.5 626.8L1341.2 626.7L1340.0 626.7L1338.0 625.3L1337.1 624.9L1337.1 623.6L1338.0 623.3L1338.3 622.8L1338.2 622.0L1338.5 620.5L1338.3 619.3L1337.3 617.1L1337.0 615.9L1337.1 614.7L1336.4 613.4L1336.3 612.8L1335.5 612.0L1335.3 610.3L1334.3 608.7L1334.0 607.9L1334.8 608.8L1334.2 606.9L1335.1 607.5L1335.6 608.3L1335.6 607.2L1334.7 605.6L1334.5 605.0L1334.1 604.4L1334.3 603.3L1334.7 602.8L1334.9 601.8L1334.7 600.6L1335.5 599.2L1335.6 600.7L1336.4 599.4L1337.8 598.7L1338.7 597.9L1340.1 597.2L1340.9 597.0L1341.4 597.3L1342.9 596.5L1344.0 596.3L1344.2 595.9L1344.7 595.7L1345.7 595.8L1347.6 595.2L1348.6 594.4L1349.1 593.3L1350.1 592.4L1350.2 591.6L1350.3 590.6L1351.5 589.0L1352.3 590.6L1353.1 590.2L1352.4 589.3L1353.0 588.4L1353.8 588.8L1354.0 587.4L1355.0 586.5L1355.4 585.7L1356.4 585.4L1356.4 584.9L1357.2 585.1L1357.2 584.6L1358.0 584.3L1358.9 584.1L1360.2 585.0L1361.2 586.1L1362.4 586.1L1363.5 586.3L1363.1 585.2L1364.0 583.7L1364.8 583.2L1364.5 582.8L1365.3 581.7L1366.4 581.1L1367.4 581.3L1368.9 580.9L1368.8 580.0L1367.5 579.4L1368.5 579.1L1369.7 579.6L1370.6 580.3L1372.2 580.8L1372.7 580.6L1373.8 581.2L1374.9 580.6L1375.6 580.8L1376.0 580.5L1376.8 581.4L1376.3 582.4L1375.6 583.1L1375.0 583.2L1375.2 583.9L1374.7 584.9L1374.0 585.8L1374.2 586.3L1375.6 587.3L1377.0 587.9L1377.9 588.6L1379.3 589.7L1379.8 589.7L1380.7 590.2L1381.0 590.8L1382.7 591.4L1383.9 590.8L1384.3 589.8L1384.6 588.9L1384.9 587.9L1385.4 586.4L1385.2 585.5L1385.3 584.9L1385.1 583.9L1385.3 582.5L1385.7 582.1L1385.4 581.5L1385.8 580.5L1386.2 579.5L1386.2 578.9L1386.9 578.3L1387.4 579.2L1387.5 580.3L1388.0 580.6L1388.1 581.3L1388.7 582.3L1388.9 583.3Z M1392.1 639.9L1393.9 640.8L1394.9 640.4L1396.3 640.0L1397.4 640.1L1397.5 643.0L1396.9 643.9L1396.7 645.8L1396.0 645.2L1394.8 646.9L1394.4 646.8L1393.3 646.7L1392.2 644.6L1391.9 642.9L1390.9 640.8L1390.9 639.7Z M1442.2 640.2L1442.6 641.2L1443.9 640.3L1444.4 641.3L1444.4 642.3L1443.8 643.4L1442.6 645.2L1441.6 646.2L1442.3 647.4L1440.9 647.5L1439.4 648.4L1438.9 650.1L1437.9 652.7L1436.4 653.9L1435.5 654.6L1433.8 654.6L1432.7 653.7L1430.7 653.5L1430.4 652.6L1431.4 650.6L1433.6 648.1L1434.8 647.7L1436.1 646.7L1437.7 645.4L1438.8 644.1L1439.6 642.3L1440.3 641.7L1440.5 640.3L1441.8 639.2Z M1445.1 629.2L1446.4 631.6L1446.4 630.0L1447.3 630.6L1447.5 632.4L1449.0 633.1L1450.2 633.3L1451.2 632.4L1452.2 632.7L1451.7 634.7L1451.2 636.1L1449.8 636.1L1449.3 636.8L1449.5 637.8L1449.2 638.2L1448.5 639.5L1447.6 641.1L1446.2 642.1L1445.9 641.5L1445.2 641.1L1446.2 639.1L1445.6 637.8L1443.7 636.9L1443.7 636.1L1445.0 635.2L1445.3 633.5L1445.2 632.0L1444.5 630.4L1444.6 630.0L1443.7 629.1L1442.3 627.2L1441.5 625.6L1442.2 625.4L1443.2 626.6L1444.6 627.2Z"/>
<path fill="#8560f0" d="M1118.2 440.3L1117.3 442.4L1115.9 441.8L1114.8 441.8L1115.1 440.2L1114.8 438.5L1116.3 438.4Z M1123.0 426.8L1121.1 430.6L1123.0 430.1L1124.9 430.1L1124.5 432.8L1122.8 435.8L1124.7 436.0L1126.5 440.1L1127.7 440.6L1128.8 444.1L1129.4 445.3L1131.5 445.8L1131.3 447.7L1130.4 448.6L1131.1 450.1L1129.5 451.6L1127.1 451.6L1124.0 452.4L1123.1 451.8L1121.9 453.2L1120.3 452.8L1119.0 453.9L1118.0 453.4L1120.7 450.4L1122.3 449.7L1119.5 449.2L1118.9 448.1L1120.8 447.2L1119.9 445.5L1120.2 443.6L1122.9 443.9L1123.2 442.1L1121.9 440.1L1119.7 439.6L1119.3 438.7L1119.9 437.3L1119.3 436.4L1118.4 437.9L1118.3 434.8L1117.3 433.1L1118.0 429.6L1119.4 426.9L1120.9 427.1Z"/>
<path fill="#e5e6ea" d="M1176.8 458.7L1177.2 458.3L1178.4 458.1L1179.7 458.9L1180.5 459.0L1181.3 459.7L1181.2 460.7L1181.8 461.1L1182.1 462.2L1182.7 462.9L1182.6 463.3L1182.9 463.6L1182.5 463.7L1181.4 463.7L1181.2 463.3L1180.8 463.5L1181.0 464.0L1180.5 464.8L1180.2 465.7L1179.7 466.0L1179.4 464.8L1179.6 463.7L1179.5 462.5L1178.5 460.9L1177.9 459.8Z M1164.1 440.7L1164.6 439.3L1167.1 438.3L1169.0 438.8L1169.8 439.3L1169.6 440.2L1169.7 441.0L1166.4 441.1Z M1355.1 575.0L1355.3 574.6L1356.9 574.1L1358.1 574.1L1358.7 573.8L1359.4 574.1L1358.7 574.6L1356.8 575.4L1355.3 575.9L1355.3 575.4Z"/>
<path fill="none" stroke="#fff" stroke-width="0.8" stroke-opacity=".9" d="M985.5 556.3L987.3 557.3L988.1 558.1L989.7 558.3L991.1 558.7L991.8 559.1L992.1 560.4L991.5 561.6L989.5 563.5L987.4 564.2L986.3 565.8L985.9 567.1L984.9 567.8L984.1 566.9L983.4 566.7L982.7 566.8L982.6 566.2L983.1 565.7L982.9 565.0 M991.8 559.1L993.5 559.8L994.1 560.6L994.9 561.1L996.0 563.0L997.4 563.2L998.4 562.7L999.0 563.0L1000.1 562.9L1001.5 563.8L1000.3 565.6L1000.9 565.6L1001.8 566.6 M1007.2 556.5L1006.9 556.8L1006.6 555.7L1006.0 555.1L1005.4 555.7L1001.9 555.7L1001.9 556.8L1003.0 557.0L1002.9 557.7L1002.6 557.5L1001.5 557.8L1001.5 559.1L1002.3 559.8L1002.6 560.8L1002.6 561.6L1001.8 566.6 M1001.8 566.6L1000.2 566.5L998.4 567.1L996.3 568.4L996.2 569.2L995.7 569.9L995.9 570.8L994.8 571.4L994.8 572.1L994.3 572.5L995.1 574.1L996.1 575.2L995.7 576.0L996.9 576.1L997.6 577.1L999.2 577.2L1000.7 576.1L1000.6 578.9L1001.4 579.1L1002.4 578.8 M1002.4 578.8L1004.0 581.8L1003.6 582.4L1003.5 583.7L1003.5 585.3L1002.8 586.2L1003.1 586.9L1002.7 587.6L1003.5 589.1L1002.3 591.2L1001.8 592.2L1000.9 592.7 M1002.4 578.8L1003.8 578.9L1004.7 578.9L1005.1 578.3L1006.7 577.6L1007.7 576.9L1010.0 576.6L1009.9 578.0L1010.1 578.7L1009.9 579.9L1011.9 581.6L1013.9 581.9L1014.6 582.6L1015.9 582.9L1016.6 583.5L1017.8 583.5L1018.8 584.0L1018.9 585.1L1019.2 585.7L1019.3 586.5L1018.7 586.5L1019.4 588.7L1022.9 588.8L1022.6 589.9L1022.8 590.6L1023.8 591.1L1024.2 592.3L1023.9 593.8L1023.4 594.7L1023.6 595.8L1023.0 596.2 M1002.3 591.2L1003.2 592.5L1003.5 593.9L1004.4 594.7L1003.8 596.5L1004.8 598.7L1005.5 601.4L1006.8 601.2L1007.0 601.6L1006.4 603.7L1004.4 604.7L1004.5 608.0L1004.1 608.7L1004.7 609.5L1003.4 610.7L1002.2 612.7L1001.6 614.5L1001.7 616.6L1000.6 618.8L1001.5 622.4L1001.9 622.8L1001.9 624.8L1000.9 627.0L1000.9 628.9L999.6 630.3L999.6 632.4L1000.1 634.7L999.0 635.5L998.5 637.6L998.1 640.0L998.4 643.0L997.7 643.5L998.1 646.3L998.9 647.3L998.3 648.3L999.2 648.9L999.4 649.8L998.6 650.3L998.8 651.8L998.1 655.3L997.1 657.6L997.4 658.9L996.8 660.7L995.4 661.9L995.5 664.9L996.2 665.9L997.4 665.7L997.4 667.9L998.1 669.6L1002.5 670.0L1004.2 670.4 M1006.8 601.2L1008.3 599.4L1010.7 599.9L1011.8 601.3L1012.5 599.7L1014.5 599.8L1014.8 600.2 M1014.8 600.2L1018.2 603.4L1019.7 603.7L1021.9 605.2L1023.7 606.0L1024.0 606.8L1022.2 609.9L1024.0 610.5L1026.1 610.8L1027.5 610.5L1029.2 608.9L1029.5 607.1 M1014.8 600.2L1015.6 597.9L1015.6 596.8L1016.5 595.1L1019.6 594.6L1021.3 594.6L1023.0 595.6L1023.0 596.2L1023.6 597.2L1023.4 599.9L1025.4 600.3L1026.1 599.9L1027.3 600.4L1027.7 601.0L1027.8 602.8L1028.1 603.6L1028.7 603.6L1029.4 603.3L1030.1 603.7L1030.1 604.8L1029.8 606.0L1029.5 607.1 M1029.5 607.1L1031.3 607.9L1031.2 609.5L1029.7 610.6L1028.5 611.5L1026.4 613.5L1024.0 616.3L1023.6 618.0L1023.1 620.2L1023.1 622.3L1022.7 622.8L1022.6 624.2 M1024.0 616.3L1025.2 616.1L1027.0 617.7L1027.7 617.7L1029.6 619.0L1031.0 620.2L1032.0 621.7L1031.2 622.7L1031.7 623.9 M1004.1 671.5L1004.1 678.3 M965.1 533.7L965.2 533.4L965.8 532.9L966.2 532.7L966.5 532.4L966.9 531.9L966.7 531.3L967.7 530.6L968.5 529.9 M966.5 532.4L967.0 532.5L967.4 532.9L968.0 533.2L968.0 533.4L968.8 533.2L969.2 533.4L969.5 533.6L969.3 534.3 M970.2 535.1L971.0 534.6L971.2 534.5L972.4 533.1L972.9 533.5L974.1 532.1L975.4 532.0L977.7 531.3 M973.1 538.6L973.4 538.3L974.6 538.8L975.0 538.6L975.5 538.7L976.4 539.2L976.8 538.8 M978.1 543.8L978.3 543.1L978.2 542.8L978.5 542.5L978.1 542.3L978.1 541.5L978.8 541.4 M1112.1 475.0L1113.5 474.1L1114.0 475.3L1115.0 475.3L1116.4 475.0L1116.9 476.2L1116.1 476.9L1116.1 478.8L1115.8 479.1L1115.7 480.2L1114.9 480.4L1115.6 481.8L1115.1 483.4L1115.8 484.0L1115.5 484.7L1114.8 485.5L1115.0 486.3 M1125.1 471.2L1125.8 472.2L1129.1 473.3L1129.8 472.8L1131.8 473.9L1133.9 473.6 M1133.1 450.5L1133.3 451.5L1134.2 451.6L1135.0 452.7L1136.3 454.1L1137.2 453.8L1138.8 455.1L1139.2 455.4L1139.7 455.3L1140.6 456.0L1143.2 456.5L1142.3 458.4L1142.0 460.4L1141.5 460.8L1140.7 460.6L1140.8 461.2L1139.5 462.7L1139.4 463.9L1140.3 463.5L1140.9 464.7L1140.8 465.4L1141.4 466.4L1140.7 467.2L1141.2 469.2L1142.2 469.5L1142.0 470.6 M1134.5 449.9L1135.8 450.2L1137.5 449.6L1138.7 450.8L1139.7 451.5L1139.5 453.4L1139.8 454.1L1139.7 455.3 M1139.7 451.5L1139.4 448.5L1140.4 448.5L1140.9 447.4L1141.4 444.6L1141.0 443.6 M1144.0 439.0L1145.3 439.4L1146.5 439.0 M1154.1 442.8L1154.5 444.3L1154.0 445.1L1154.7 446.2L1155.1 447.8L1155.0 448.8L1155.7 450.6L1154.9 451.0 M1154.9 451.0L1154.4 450.6L1154.0 451.2L1152.7 451.7L1152.0 452.4L1150.7 453.0L1151.0 453.9L1151.2 455.1L1152.1 455.7L1153.2 456.9L1152.5 458.2L1151.9 458.5L1152.1 460.3L1151.9 460.8L1151.4 460.2L1150.5 460.1L1149.2 460.6L1147.6 460.5L1147.4 461.2L1146.4 460.5L1145.9 460.6L1143.9 459.8L1143.6 460.4L1142.0 460.4 M1145.9 460.6L1146.0 461.1L1145.7 461.8L1146.5 462.2L1147.4 462.3L1147.3 463.4L1146.5 463.8L1145.1 463.5L1144.8 464.5L1143.9 464.6L1143.6 464.2L1142.6 465.1L1141.7 465.2L1140.9 464.7 M1147.4 462.3L1148.5 462.7L1148.7 462.2L1150.5 461.7L1150.9 462.6L1153.5 463.3L1153.3 464.6L1153.8 465.7 M1154.9 451.0L1155.7 450.6L1156.6 451.6L1157.9 451.8L1157.8 452.6L1158.8 453.2L1159.1 452.5L1160.3 452.8L1160.5 453.7L1161.8 453.8L1162.7 455.2L1162.1 455.2L1161.9 455.7L1161.4 455.9L1161.3 456.5L1161.0 456.6L1160.9 456.9L1160.3 457.2L1159.5 457.1L1159.3 457.7 M1159.3 457.7L1158.4 457.2L1157.6 457.3L1156.1 456.5L1155.5 456.7L1154.5 457.8L1153.2 456.9 M1159.3 457.7L1159.1 458.1L1159.3 459.0L1159.1 460.1L1158.1 460.1L1158.5 460.7L1157.9 462.4L1157.5 462.9L1156.0 462.9L1155.0 463.5L1153.5 463.3 M1159.3 459.0L1160.2 459.7L1160.9 460.0L1162.4 459.7L1162.6 459.1L1163.3 459.0L1164.1 458.6L1164.3 458.8L1165.2 458.4L1165.6 457.8L1166.2 457.6L1168.2 458.5L1168.6 458.2 M1162.7 455.2L1163.5 455.0L1164.5 456.0L1165.5 455.4L1166.4 455.7L1167.7 455.3L1169.4 456.4L1169.8 456.5L1169.3 455.3L1171.0 452.9L1171.9 452.6L1172.1 451.8L1171.2 449.3 M1169.4 456.4L1168.9 457.1L1168.6 458.2L1169.5 458.9L1169.7 459.7L1170.5 459.1L1171.6 459.4L1172.7 459.4L1173.6 460.0L1174.2 459.6L1175.5 459.4L1176.0 458.7L1176.8 458.7 M1169.7 459.7L1168.6 460.2L1167.7 462.0L1166.6 463.8L1165.2 464.3 M1157.9 462.4L1158.2 462.4L1158.5 463.3L1159.1 463.7L1160.5 464.8L1162.0 465.3L1162.6 464.9 M1158.5 463.3L1157.1 464.0L1156.9 465.1L1156.3 465.4L1156.3 466.1L1155.6 466.0L1155.0 465.6L1154.6 466.0L1153.4 466.0 M1169.6 469.2L1170.1 470.2L1170.8 470.0L1172.2 470.4L1174.9 470.6L1175.8 469.9L1177.9 469.3L1179.2 470.3L1180.3 470.5 M1170.1 476.3L1171.5 476.4L1172.9 475.8L1174.2 476.6L1175.8 476.4L1175.9 475.2 M1179.7 466.0L1180.5 466.5L1181.4 466.1L1182.2 466.5 M1172.6 429.7L1174.1 429.1L1174.9 429.5L1176.5 430.8L1178.0 430.8 M1166.7 435.6L1168.8 434.6L1171.8 434.8L1173.6 434.5L1173.8 435.2L1174.8 435.4L1176.5 436.9 M1169.7 441.0L1170.6 441.3L1171.1 442.3 M1148.5 426.1L1149.3 424.0L1150.8 421.6L1151.4 417.2L1150.2 415.3L1150.1 410.1L1151.3 406.2L1153.1 406.3L1153.7 404.6L1153.1 403.2L1155.9 397.1L1157.7 392.0L1158.9 388.6L1160.6 388.6L1161.1 385.9L1164.5 386.6L1164.8 383.3L1165.9 383.1 M1165.9 383.1L1168.4 385.6L1171.2 388.9L1171.2 396.1L1171.8 397.9 M1165.9 383.1L1167.0 381.8L1169.0 384.5L1171.4 384.3L1173.4 385.5L1175.1 383.2L1176.0 379.4L1178.8 377.7L1181.1 379.7L1180.3 383.4 M1098.7 529.1L1099.3 528.5L1100.2 528.7L1101.0 528.3L1102.1 528.3L1102.9 528.8L1104.1 529.3L1105.2 530.7L1106.4 532.0 M1106.4 532.0L1107.1 531.7L1107.3 530.6L1107.9 530.5L1109.2 531.0L1110.2 530.7L1110.9 530.8L1111.2 530.4L1118.5 530.3L1118.9 529.0L1118.5 528.8L1117.7 520.5L1116.8 512.0L1119.6 512.0 M1106.4 532.0L1106.5 533.2L1106.9 534.2L1107.6 534.8L1107.7 535.5L1107.6 536.1L1107.4 536.2 M1107.4 536.2L1106.4 536.0L1105.8 536.3L1104.5 535.8L1103.7 535.8L1100.3 535.7L1099.8 535.9L1099.2 535.9L1098.3 536.2 M1098.0 534.7L1099.6 534.8L1100.1 534.5L1100.4 534.5L1101.0 534.1L1101.8 534.5L1102.6 534.5L1103.4 534.1L1103.0 533.6L1102.4 533.9L1101.9 533.9L1101.2 533.4L1100.6 533.4L1100.2 533.9L1098.2 533.9 M1103.7 535.8L1103.6 536.4L1103.4 536.6L1103.6 537.2L1103.3 537.5L1102.9 537.5L1102.4 537.8L1101.9 537.8L1101.1 538.7 M1107.4 536.2L1108.0 536.7L1108.5 536.5L1108.8 536.5L1109.3 537.0L1110.1 537.2L1110.6 536.8L1111.1 536.5L1111.6 536.3L1111.9 536.3L1112.3 536.7L1112.6 537.2L1113.3 538.0L1112.9 538.5L1112.9 539.1L1113.3 538.9L1113.5 539.1L1113.4 539.7L1113.9 540.2 M1104.5 542.6L1105.5 541.8L1105.7 541.3L1106.0 540.9L1106.5 540.8L1106.9 540.5L1108.3 540.5L1108.8 541.1L1109.2 541.9L1109.2 542.5L1109.5 542.9L1109.4 543.6L1110.0 543.5 M1110.0 543.5L1109.1 544.4L1108.3 545.3L1108.2 545.9L1107.8 546.5 M1110.0 543.5L1110.3 543.5L1110.8 543.3L1111.6 544.4L1111.5 545.1L1111.8 545.5L1112.3 545.5L1112.7 544.8L1113.2 544.8 M1113.2 544.8L1113.5 544.8L1113.6 544.0L1113.5 543.7L1113.6 543.4L1114.3 543.2L1113.9 541.7L1113.4 541.0L1113.6 540.3L1113.9 540.2 M1113.2 544.8L1113.1 545.3L1113.3 546.2L1112.9 547.0L1113.4 547.6L1114.0 547.7L1114.8 548.4L1114.8 549.2L1114.6 549.4L1114.5 550.9 M1113.9 540.2L1114.2 540.0L1114.7 540.3L1116.1 540.3L1116.4 539.8L1116.7 539.8L1117.2 539.6L1117.5 540.4L1117.9 540.2L1118.7 539.9 M1118.7 539.9L1118.6 538.8L1119.1 538.0L1119.0 537.4L1120.5 535.9L1120.7 534.6L1121.2 534.1L1122.1 534.4L1122.9 534.0L1123.1 533.5L1124.5 532.7L1124.9 532.1L1126.6 531.3L1127.6 531.1L1128.0 531.4L1129.2 531.4 M1129.2 531.4L1130.3 531.3L1131.0 530.7L1133.5 530.5L1135.1 530.2L1135.2 529.1L1136.2 527.8L1136.2 523.4 M1118.7 539.9L1119.5 540.3L1119.8 540.9L1120.6 541.3L1121.3 540.8L1122.1 540.8L1123.4 541.2 M1123.4 541.2L1123.9 543.8L1123.1 545.4L1122.6 547.4L1123.4 549.0L1123.3 549.7 M1123.4 541.2L1123.1 539.8L1123.2 538.8L1126.3 538.7L1127.1 538.8L1127.7 538.5L1128.5 538.7 M1128.5 538.7L1128.4 539.3L1129.2 540.2L1129.2 541.6L1129.3 543.0L1129.8 543.7L1129.4 545.3L1129.5 546.2L1130.0 547.4L1130.4 548.0 M1128.5 538.7L1130.1 538.7L1130.7 538.5L1131.1 537.7L1132.0 537.5L1132.4 537.0 M1130.1 538.7L1129.9 539.7L1130.5 540.2L1131.1 540.9L1131.1 541.8L1131.5 542.2L1131.4 546.4L1131.9 547.6 M1129.2 531.4L1129.0 532.3L1129.3 533.2L1130.3 534.4L1130.3 535.3L1132.5 535.7L1132.4 537.0 M1132.4 537.0L1133.0 536.5L1133.7 536.4L1135.0 537.5 M1135.0 537.5L1135.0 538.1L1135.4 539.2L1135.0 540.0L1135.2 540.5L1134.3 541.6L1133.8 542.2L1133.4 543.3L1133.5 544.5L1133.4 547.4 M1135.0 537.5L1135.2 535.9L1135.7 535.1L1136.0 534.0L1136.4 533.6L1138.4 533.4L1140.2 534.1L1140.9 534.8L1141.8 534.8L1142.6 534.4L1144.8 535.3L1145.8 535.3L1146.8 534.5L1147.9 534.6L1148.4 534.3L1149.4 534.4L1150.8 535.0L1152.2 533.9L1152.7 534.0L1153.8 534.4 M1155.4 516.2L1155.9 519.2L1156.5 519.7L1156.6 520.4L1157.3 521.0L1156.9 521.9L1156.2 525.7L1156.1 528.2L1153.8 530.0L1153.0 532.5L1153.8 533.2L1153.8 534.4L1155.0 534.4L1154.8 535.3 M1153.8 534.4L1154.2 536.0L1154.9 536.7L1154.7 537.1L1154.6 537.7L1153.1 539.1L1152.6 540.3L1152.4 541.2L1152.0 541.6L1151.6 542.9L1150.7 543.7L1150.4 544.6L1150.0 545.3L1149.8 546.1L1148.6 546.7L1147.5 546.0L1146.8 546.0L1145.8 547.1L1145.2 547.1L1144.4 548.8L1143.9 550.1 M1154.8 535.3L1155.5 536.5L1155.6 537.7L1155.6 538.9L1156.5 540.6L1155.5 540.6L1155.0 540.7L1154.2 540.5L1153.8 541.4L1154.9 542.5L1155.7 542.8L1155.9 543.6L1156.5 544.8 M1156.5 544.8L1157.7 545.2L1158.0 544.7L1158.3 544.7L1158.8 545.1L1161.1 544.4L1161.8 543.7L1162.8 543.1L1162.6 542.5L1163.1 542.3L1164.9 542.4L1166.6 541.5L1167.9 539.5L1168.8 538.8L1169.9 538.5 M1156.5 544.8L1156.2 545.3L1155.3 547.2L1154.9 547.5L1154.7 548.9L1154.9 549.7L1154.8 550.2L1155.6 551.2L1155.8 551.8L1156.4 552.7L1157.3 553.3L1157.3 554.2L1157.5 554.7 M1157.5 554.7L1157.4 555.7L1156.0 555.2L1154.5 554.8L1152.2 554.7 M1157.5 554.7L1158.5 553.0L1159.6 552.0L1160.8 552.3L1162.0 552.5L1162.1 551.2L1162.8 550.3L1163.8 549.7L1165.3 550.3L1166.4 551.0L1167.8 551.1L1169.1 551.5L1169.7 550.4L1169.9 550.3L1170.7 550.4L1172.8 549.5L1173.5 549.9L1174.1 549.9L1174.3 549.4L1175.0 549.2L1176.4 549.4L1177.5 549.5L1178.1 549.3 M1162.0 552.5L1161.8 553.5L1161.3 554.5L1161.0 555.6L1160.7 557.2L1160.8 558.3L1160.5 558.9L1160.5 559.6L1160.3 560.1L1159.1 561.0L1158.3 562.0L1157.5 563.7L1157.5 565.2L1157.1 565.8L1156.0 566.7L1154.9 567.8L1154.3 567.5L1154.1 567.0L1153.2 567.0L1152.5 567.7L1152.1 567.5L1151.4 566.9L1150.8 567.2L1150.1 567.9 M1150.8 569.9L1151.6 569.6L1152.1 569.7L1152.8 569.4L1158.1 569.5L1158.5 570.8L1159.1 571.9L1159.5 572.5L1160.2 573.5L1161.4 573.3L1162.0 573.1L1163.0 573.3L1163.3 572.9L1163.7 571.8L1164.8 571.7L1164.9 571.4L1165.8 571.4L1165.7 572.1L1167.9 572.1L1167.9 573.2L1168.3 573.9L1168.0 575.0L1168.2 576.1L1168.8 576.8L1168.7 579.0L1169.1 578.8L1169.9 578.9L1171.0 578.6L1171.9 578.7L1172.1 579.3 M1172.1 579.3L1171.8 580.2L1172.2 581.1L1171.9 581.8L1172.1 582.4L1168.3 582.4L1168.2 588.3L1169.4 589.9L1170.6 591.1 M1172.1 579.3L1172.6 579.3L1173.4 579.3L1174.6 579.5L1175.2 580.3L1176.6 580.6L1177.7 580.0L1178.2 581.0L1179.6 581.2L1180.2 582.0L1181.0 583.0L1182.3 583.1L1182.2 581.1L1181.7 581.4L1180.4 580.7L1179.9 580.3L1180.2 578.5L1180.5 576.3L1180.1 575.5L1180.6 574.3L1181.1 574.1L1183.5 573.8L1184.2 574.0 M1184.2 574.0L1183.3 571.7L1182.2 570.6L1181.8 569.6L1182.0 568.6L1181.7 567.0L1181.6 564.8L1181.1 564.0L1181.3 563.0L1181.5 562.8L1181.6 561.7L1182.1 561.2L1182.1 559.9L1182.6 559.2L1182.7 557.7L1183.1 556.9L1183.7 555.9L1184.4 555.4L1185.0 554.8L1184.3 554.6L1184.4 552.4 M1190.1 551.1L1191.0 552.3L1191.2 553.3L1192.0 555.3L1191.4 556.7L1190.5 557.9L1189.9 558.6L1190.0 560.5 M1190.0 560.5L1186.3 560.7L1184.3 560.6L1183.7 560.8L1182.6 561.4L1182.1 561.2 M1183.7 560.8L1184.4 561.9L1184.3 563.0L1183.7 563.2L1182.8 563.1L1182.2 564.1L1181.1 564.0 M1183.7 563.2L1183.9 563.9L1184.2 564.3L1184.3 564.9L1183.8 565.3L1183.1 566.2L1182.4 566.9L1181.7 567.0 M1190.0 560.5L1190.3 560.7L1196.9 564.4L1197.0 565.5L1199.6 567.3 M1192.5 548.8L1193.4 549.1L1193.4 550.1L1194.1 550.7L1195.3 550.7L1197.6 552.3L1198.2 552.3L1198.6 552.2L1199.0 552.5L1200.2 552.6L1200.8 551.8L1202.4 551.1L1203.1 551.7L1204.4 551.7 M1184.2 574.0L1185.0 574.4L1185.7 574.7L1186.9 575.1L1187.9 575.6L1188.7 576.4L1190.0 576.5L1190.7 577.3L1191.2 579.8 M1191.2 579.8L1192.5 579.7L1194.7 580.2L1195.2 580.0L1196.4 579.9L1197.1 579.4L1198.2 579.4L1200.2 578.7L1201.6 577.6 M1191.2 579.8L1190.7 581.2L1191.2 583.7L1191.8 583.6L1192.4 584.2L1193.2 585.6L1193.4 588.0L1192.6 588.4L1192.0 589.7L1190.8 588.5L1190.7 587.2L1191.1 586.3L1191.0 585.6L1190.3 585.1L1189.8 585.3L1188.7 584.4 M1188.7 584.4L1187.8 583.9L1188.3 582.2L1188.9 581.5L1188.5 580.0L1188.9 578.5L1189.2 578.0L1188.7 576.4 M1188.7 584.4L1183.2 585.9L1183.4 587.3 M1183.4 587.3L1182.0 587.5L1181.0 588.3L1180.8 588.9L1180.1 589.1L1178.5 590.6L1177.5 591.9L1176.9 591.9L1176.3 591.7L1174.3 591.5 M1183.4 587.3L1183.5 588.0L1185.0 587.9L1185.9 588.3L1186.2 588.8L1187.1 588.9L1188.1 589.5L1188.1 591.9L1187.7 593.3L1187.6 594.7L1187.9 595.3L1187.7 596.4L1187.4 596.6L1187.0 598.0L1185.1 600.2 M1185.1 600.2L1184.1 600.0L1183.5 600.2L1182.6 599.9L1181.9 599.9 M1185.1 600.2L1185.9 603.0L1186.4 604.4L1186.1 606.6L1186.2 607.3L1186.6 609.1L1188.0 609.1 M1186.2 607.3L1185.3 607.0L1184.8 607.1L1184.6 607.7L1184.1 608.5L1184.1 609.1L1185.2 610.3L1186.3 610.0L1186.6 609.1 M1181.0 613.7L1181.7 614.3L1181.1 615.3L1180.8 616.0L1179.8 616.3L1179.5 617.0L1178.8 617.2L1177.5 615.6L1178.4 614.3L1179.4 613.5L1180.2 613.1L1181.0 613.7 M1112.8 507.1L1112.8 506.6L1112.8 504.2L1115.7 502.6L1117.5 502.3L1119.0 501.7L1119.7 500.7L1121.8 499.8L1121.9 498.3L1122.9 498.1L1123.7 497.3L1126.1 496.9L1126.5 496.1L1126.0 495.7L1125.4 493.4L1125.3 492.0L1124.6 490.6 M1112.8 506.6L1104.7 506.6 M1143.8 486.6L1143.4 487.8L1143.7 489.9L1143.3 491.7L1142.1 493.0L1142.3 494.6L1143.8 495.9L1143.8 496.4L1144.9 497.3L1145.7 501.1L1146.3 502.9L1146.4 503.9L1146.1 505.6L1146.2 506.5L1146.0 507.6L1146.1 508.9L1145.4 509.8L1146.5 511.2L1146.5 512.1L1147.2 513.2L1148.0 512.8L1149.5 513.8L1150.2 515.0 M1145.7 501.1L1146.6 500.6L1146.7 499.7L1146.5 498.8L1147.8 498.0L1148.3 497.3L1149.2 496.7L1149.3 495.1 M1174.1 498.4L1173.5 499.4L1173.8 500.4L1173.3 501.7L1173.8 503.3L1173.8 510.6L1173.8 517.9L1173.8 521.8L1171.7 521.8L1171.7 522.6 M1173.8 517.9L1179.3 517.9L1184.7 517.9L1188.3 517.9L1195.3 517.9 M1178.1 549.3 M1194.6 532.4L1194.4 531.6L1195.1 528.9L1195.3 527.6L1195.9 527.0L1197.2 526.7L1198.1 525.6 M1205.3 535.9L1206.1 536.0L1206.6 535.6 M1206.1 538.9L1206.3 538.8L1206.7 537.9 M1217.3 538.0L1217.2 538.8L1217.2 540.6L1217.2 541.6L1216.4 542.7L1215.1 544.2 M1171.8 543.1L1172.4 542.9L1173.0 542.6L1173.4 540.9L1174.0 540.1L1175.3 539.8L1175.6 540.3L1176.5 541.4L1177.0 541.6L1177.7 541.2L1179.0 541.3L1179.2 541.7L1181.0 541.7L1181.1 541.3L1182.0 541.0L1182.2 540.4L1182.9 540.0L1184.4 541.1L1185.3 540.9L1186.2 539.6L1187.2 538.6L1187.1 537.5L1186.6 536.9L1187.7 536.8L1187.9 536.4L1188.7 536.5L1188.5 537.9L1188.7 539.2L1189.6 540.0L1189.9 540.6L1189.8 541.5L1190.1 541.6L1190.1 543.0 M1149.0 554.7L1149.0 556.9L1146.3 556.9L1145.7 557.0 M1164.6 605.2L1164.6 599.4L1166.4 599.3L1166.4 592.5L1167.8 592.4L1170.6 591.7L1171.3 592.5L1172.4 591.8L1173.0 591.8L1174.0 591.3L1174.3 591.5 M1194.0 489.2L1194.5 488.7L1195.0 488.2L1195.1 486.9L1195.7 487.4L1197.7 486.7L1198.7 487.2L1200.2 487.1L1202.2 486.3L1203.2 486.3L1205.3 486.0L1206.1 485.6L1208.2 485.9L1208.8 486.5L1209.7 486.1 M1209.7 480.2L1208.5 480.9L1209.0 483.6L1208.7 484.3L1209.7 486.1L1210.9 488.8L1212.0 489.5L1212.2 490.8L1211.3 491.5L1210.9 493.2L1212.1 495.3L1214.3 496.5L1215.3 498.1L1215.0 499.7L1215.5 499.7L1215.5 500.8L1216.6 501.9 M1205.3 486.0L1204.4 487.4L1203.4 487.9L1203.5 489.6L1202.9 492.3L1198.8 494.5L1195.3 496.8L1193.3 496.0 M1193.7 491.8L1194.6 491.9L1194.9 492.7L1193.9 493.6L1193.4 494.7L1193.5 495.6L1193.3 496.0L1193.0 496.7L1193.0 498.0L1192.7 498.6L1192.7 499.4L1191.8 502.8 M1192.1 495.2L1192.8 495.2L1193.4 494.7 M1191.9 503.1L1193.9 503.4L1194.7 502.8L1195.1 502.0L1196.5 501.7L1196.8 501.0L1197.4 500.7L1195.6 498.6L1199.2 497.5L1199.6 497.2L1198.8 494.5 M1199.6 497.2L1201.7 497.7L1204.5 499.2L1209.6 503.4L1212.9 503.6L1214.5 503.8L1215.0 504.8L1216.3 504.8 M1212.9 503.6L1214.3 501.6L1215.5 501.8 M1220.6 512.5L1221.2 512.8L1221.7 512.7 M1222.0 513.5L1222.1 513.9L1222.8 515.9L1228.2 516.9L1228.6 516.5L1228.6 515.7L1229.2 514.9L1229.2 514.1L1230.0 513.7L1229.7 513.4L1229.8 512.1L1230.8 512.1 M1230.2 509.8L1230.5 510.5 M1228.6 516.5L1229.4 517.9L1228.2 521.8L1222.8 523.7L1224.2 526.9L1224.8 528.2 M1222.8 523.7L1217.6 524.4L1215.9 525.3L1214.6 527.3L1213.7 527.6L1213.3 527.0L1212.6 527.1L1210.8 526.9L1210.5 526.7L1208.4 526.7L1207.9 526.9L1207.2 526.4L1206.7 527.3L1206.9 528.1L1206.1 528.7 M1252.1 514.6L1253.3 513.2L1257.3 513.2L1256.9 511.5L1255.9 510.5L1255.7 509.0L1254.5 508.0L1256.5 505.9L1258.6 506.1L1260.5 503.9L1261.7 501.8L1263.4 499.7L1263.4 498.2L1265.0 496.9L1263.5 495.9L1262.9 494.4L1262.2 492.5L1263.1 491.5L1265.9 492.1L1267.9 491.8L1269.6 489.9 M1275.6 501.4L1274.4 502.3L1273.7 504.3L1275.5 505.0L1277.2 506.0L1279.5 507.2L1282.0 507.5L1283.1 508.5L1284.5 508.7L1286.7 509.1L1288.2 509.1L1288.4 508.3L1288.1 507.0L1288.3 506.1 M1289.9 517.8L1289.6 516.2L1289.0 514.7L1289.3 513.5L1288.2 513.0L1288.6 512.2L1289.7 511.5L1288.4 510.4L1289.1 509.0L1290.5 509.9L1291.4 510.0L1291.5 511.4L1293.3 511.7L1294.9 511.7L1296.0 512.0L1295.2 513.7L1294.3 513.8L1293.8 514.9L1294.8 516.0L1295.1 514.7L1295.6 514.7L1296.5 517.8L1296.5 519.2L1295.8 518.9L1296.0 520.5 M1296.5 517.8L1297.4 517.3L1297.2 516.5L1297.6 515.9L1297.7 513.8L1299.1 514.3L1299.9 512.6L1300.0 511.6L1301.0 510.0L1301.0 508.8L1303.3 507.4L1304.6 507.8L1304.5 506.5L1305.1 506.1L1305.0 505.3 M1294.8 506.4L1295.5 507.0L1295.4 508.3L1293.9 508.3L1292.3 508.2L1291.2 508.5L1289.6 507.7L1289.5 507.3 M1307.2 540.7L1308.1 538.8L1309.1 537.1L1308.4 535.4L1308.4 534.5L1308.2 533.5L1307.0 532.0L1306.5 531.1L1307.2 530.7L1307.8 529.1L1307.1 527.8L1305.9 526.4L1305.1 524.8L1305.8 524.4L1306.6 522.3L1307.9 522.3L1309.0 521.4L1310.0 521.0L1310.4 520.3L1311.9 519.0 M1310.0 521.0L1310.8 521.6L1310.9 522.7L1312.1 522.8L1311.7 524.8L1311.7 526.5L1313.6 525.4L1314.2 525.7L1315.2 525.7L1315.6 525.0L1317.0 525.2L1318.4 526.7L1318.5 528.6L1319.9 530.2L1319.9 531.8L1319.3 532.7L1317.6 532.4L1315.2 532.7L1314.1 534.3L1314.5 536.5 M1319.3 532.7L1320.8 533.4L1321.6 532.1L1323.2 532.8L1323.6 534.0L1323.4 536.3L1320.3 537.7L1321.1 538.8L1319.2 538.9L1317.7 539.7 M1323.2 532.8L1323.5 530.9L1323.1 529.6L1321.7 528.3L1320.6 526.6L1319.0 524.3L1316.9 523.2L1317.4 522.5L1318.5 522.0L1317.9 520.3L1315.6 520.3L1314.8 518.5L1313.7 517.0 M1217.5 463.6L1216.6 463.2L1216.8 461.8L1215.6 460.0L1214.3 460.1L1212.8 458.3L1213.8 456.2L1213.3 455.6L1214.7 452.5L1216.6 454.2L1216.8 452.1L1220.6 449.0L1223.4 448.9L1227.4 450.9L1229.5 452.0L1231.4 450.8L1234.3 450.8L1236.6 452.2L1237.2 451.4L1239.7 451.5L1240.2 450.2L1237.2 448.2L1239.0 446.7L1238.6 445.9L1240.4 445.1L1239.1 443.1L1239.9 442.0L1246.7 440.9L1247.6 440.2L1252.1 439.0L1253.7 437.7L1257.0 438.4L1257.6 441.6L1259.4 440.8L1261.8 441.9L1261.6 443.6L1263.4 443.4L1267.9 440.5L1267.3 441.5L1269.6 443.9L1273.6 451.4L1274.6 449.8L1277.1 451.5L1279.7 450.8L1280.7 451.3L1281.6 452.9L1282.8 453.5L1283.6 454.7L1285.9 454.3L1286.9 456.0L1287.6 455.8 M1286.9 456.0L1285.5 457.8L1284.0 458.1L1283.9 460.8L1282.9 462.0L1279.3 461.1L1278.0 465.8L1277.1 466.4L1273.5 467.4L1275.1 471.8L1273.9 472.5L1274.0 473.9 M1340.1 454.1L1342.2 455.2L1344.8 453.4L1344.8 452.2L1346.4 449.1L1347.4 448.2L1347.4 446.5L1346.4 445.8L1347.9 444.3L1350.2 443.8L1352.5 443.7L1355.3 444.6L1356.9 445.7L1358.0 448.7L1358.7 449.9L1359.3 451.7L1360.0 454.5L1363.1 455.4L1365.3 457.3L1366.0 459.9L1368.8 459.9L1370.3 458.8L1373.3 458.0L1372.4 460.5L1371.7 461.5L1371.0 464.3L1369.8 466.9L1367.6 466.4L1366.1 467.3L1366.5 469.5L1366.3 472.5L1365.3 472.5L1365.4 473.8L1365.6 474.2 M1365.4 473.8L1364.2 472.3L1363.5 473.7L1360.7 474.8L1361.0 476.0L1359.4 476.0L1358.5 475.2L1357.3 476.9L1355.3 478.2L1353.8 479.7 M1223.7 475.3L1226.6 474.0L1227.8 474.6L1229.1 476.5L1230.0 476.4L1229.9 467.3L1234.6 465.7L1234.9 466.0L1237.7 467.8L1239.2 468.7L1240.9 471.0L1243.1 470.7L1246.2 470.5L1248.3 472.3L1248.2 474.8L1249.1 474.8L1249.5 476.8L1251.8 476.8L1252.3 478.0L1252.9 478.0L1253.7 476.2L1256.1 474.5L1257.2 474.1L1257.6 473.0L1262.0 472.1L1263.1 471.5L1265.6 472.6L1269.3 472.4L1272.0 472.6L1274.0 473.9 M1230.0 476.4L1232.0 476.4L1231.7 475.2L1233.3 474.3L1234.8 472.9L1237.2 474.2L1237.4 476.1L1238.1 476.6L1240.1 476.5L1240.7 477.0L1241.6 479.4L1243.7 481.1L1244.8 482.2L1246.8 483.3L1249.2 484.3L1249.1 485.7L1248.6 485.6L1247.7 485.0L1247.4 485.8L1245.9 486.2L1245.5 488.1L1244.5 488.7L1243.1 489.1L1242.7 490.1L1241.3 490.4L1239.5 489.5 M1249.1 485.7L1250.1 485.7L1251.5 486.2L1252.0 486.5L1253.4 485.7L1254.0 486.2L1254.5 485.1L1255.6 485.2L1255.9 484.8L1256.1 483.9L1256.9 483.1L1257.9 483.6L1257.7 484.3L1258.2 484.4L1258.0 486.3L1258.8 487.1L1259.4 486.6L1260.2 486.4L1261.3 485.4L1262.6 485.5L1264.4 485.5L1264.2 484.2L1264.2 483.3L1262.5 483.0L1262.1 480.9L1262.6 480.3L1262.3 479.8L1264.1 478.7L1265.3 478.2L1267.3 478.5L1267.9 477.0L1270.3 476.7L1270.9 475.8L1273.8 474.4L1274.0 473.9 M1251.5 486.2L1252.5 483.8L1252.1 482.1L1250.8 481.6L1251.2 480.5L1252.8 480.7L1253.6 479.3L1254.2 477.8L1256.6 477.3L1256.3 478.4L1256.5 479.0L1257.2 479.0L1256.6 479.7L1254.6 479.3L1254.4 480.7L1256.4 480.5L1258.6 481.2L1262.1 480.9 M1256.6 477.3L1258.8 476.2L1257.5 476.8L1256.2 475.9L1257.7 474.3L1257.2 474.1 M1257.2 479.0L1258.6 479.2L1261.0 477.5L1258.8 476.2 M1212.6 475.1L1213.2 475.2L1214.4 476.6L1215.2 476.8L1215.5 476.2L1216.6 475.2 M1207.5 476.9L1210.0 476.6L1210.4 477.2L1211.1 477.6L1210.7 478.2L1211.7 479.0L1211.2 479.8L1212.0 480.4L1212.8 480.8L1212.8 482.4 M1209.7 480.2L1210.1 480.2L1210.6 480.8L1211.4 480.8L1211.4 481.1L1212.2 482.5 M1179.6 435.1L1181.5 436.0L1181.8 436.8L1182.7 436.4L1184.5 437.1L1184.7 438.6L1184.3 439.5L1185.4 441.5L1186.1 442.1L1186.0 442.7L1187.3 443.2L1187.8 444.0L1187.1 444.7L1185.6 444.6L1185.3 444.9L1185.7 445.8L1186.1 447.7 M1163.6 475.0L1164.3 473.0L1164.9 473.3L1165.7 474.2L1165.8 475.1L1165.6 475.9L1165.9 476.9L1166.6 477.5 M1162.2 473.1L1162.4 471.8L1163.3 471.0L1163.8 470.9L1164.1 469.7L1163.2 468.7L1163.6 467.6L1163.0 467.6 M1164.9 473.3L1165.2 472.8L1164.4 472.0L1163.3 471.0 M1165.8 475.1L1167.2 474.2L1169.1 474.0 M1335.6 550.6L1336.3 551.5L1336.8 550.9L1337.6 551.0L1337.2 549.9"/>
</g></svg>
<h2 class="t" style="left:31.60px;top:31.00px;font-size:27.9px;line-height:35px;letter-spacing:0.817px;font-weight:400;-webkit-text-stroke:.18px currentColor">Regions</h2><i class="dot" style="left:195.00px;top:38.00px;background:#6282ee"></i><span class="t" style="left:226.30px;top:33.00px;font-size:24.1px;line-height:30px;letter-spacing:0.642px;font-weight:400">United States</span><b class="t" style="left:390.80px;top:33.00px;font-size:24.1px;line-height:30px;letter-spacing:-0.375px;font-weight:700">1,010</b><i class="dot" style="left:506.20px;top:38.00px;background:#8560f0"></i><span class="t" style="left:538.00px;top:33.00px;font-size:24.1px;line-height:30px;letter-spacing:0.865px;font-weight:400">United Kingdom</span><b class="t" style="left:732.75px;top:33.00px;font-size:24.1px;line-height:30px;letter-spacing:-1.188px;font-weight:700">1,102</b><i class="dot" style="left:844.50px;top:38.00px;background:#69b78a"></i><span class="t" style="left:876.75px;top:33.00px;font-size:24.1px;line-height:30px;letter-spacing:0.4px;font-weight:400">Europe</span><b class="t" style="left:969.00px;top:33.00px;font-size:24.1px;line-height:30px;letter-spacing:2.0px;font-weight:700">3,039</b><i class="dot" style="left:1094.25px;top:38.00px;background:#db7a36"></i><span class="t" style="left:1126.75px;top:33.00px;font-size:24.1px;line-height:30px;letter-spacing:0.643px;font-weight:400">Americas</span><b class="t" style="left:1244.50px;top:33.00px;font-size:24.1px;line-height:30px;letter-spacing:-0.375px;font-weight:700">315</b><i class="dot" style="left:1340.75px;top:38.00px;background:#6bb3d1"></i><span class="t" style="left:1373.75px;top:33.00px;font-size:24.1px;line-height:30px;letter-spacing:0.795px;font-weight:400">Asia-Pacific</span><b class="t" style="left:1521.00px;top:33.00px;font-size:24.1px;line-height:30px;letter-spacing:-0.5px;font-weight:700">241</b><i class="dot" style="left:1617.00px;top:38.00px;background:#e0a33e"></i><span class="t" style="left:1650.40px;top:33.00px;font-size:24.1px;line-height:30px;letter-spacing:0.58px;font-weight:400">Africa</span><b class="t" style="left:1728.90px;top:33.00px;font-size:24.1px;line-height:30px;letter-spacing:2.4px;font-weight:700">837</b><i class="dot" style="left:1829.00px;top:38.00px;background:#c4324c"></i><span class="t" style="left:1861.00px;top:33.00px;font-size:24.1px;line-height:30px;letter-spacing:0.51px;font-weight:400">Middle East</span><b class="t" style="left:2005.40px;top:33.00px;font-size:24.1px;line-height:30px;letter-spacing:0.175px;font-weight:700">1,730</b><span class="t" style="left:2110.50px;top:33.00px;font-size:24.1px;line-height:30px;letter-spacing:0.8px;font-weight:400;color:#6b7186">8,274 total</span>
</section>

<div class="field g" style="left:24px;top:832px;width:1384px"><svg class="abs" style="left:21.40px;top:18.40px" width="31.5" height="31.5" viewBox="0 0 24 24" fill="none" stroke="#646b80" stroke-width="2" stroke-linecap="round"><circle cx="11" cy="11" r="8"/><path d="M21 21l-4.3-4.3"/></svg><span class="t" style="left:71.00px;top:17.00px;font-size:28.2px;line-height:35px;letter-spacing:0.764px;font-weight:400;color:#6b7186">Search by title, buyer, or keyword...</span></div>
<div class="field g" style="left:1434px;top:832px;width:382px"><span class="t" style="left:24.00px;top:17.00px;font-size:28.2px;line-height:35px;letter-spacing:0.25px;font-weight:400">All Regions</span><svg class="abs" style="left:324px;top:19px" width="30" height="30" viewBox="0 0 24 24" fill="none" stroke="#7c8a8c" stroke-width="2" stroke-linecap="round" stroke-linejoin="round"><path d="M6 9l6 6 6-6"/></svg></div>
<div class="field g" style="left:1842px;top:832px;width:350px"><span class="t" style="left:22.00px;top:17.00px;font-size:28.2px;line-height:35px;letter-spacing:0.78px;font-weight:400">Date Posted</span><svg class="abs" style="left:292.5px;top:19.3px" width="30" height="30" viewBox="0 0 24 24" fill="none" stroke="#7c8a8c" stroke-width="2" stroke-linecap="round" stroke-linejoin="round"><path d="M6 9l6 6 6-6"/></svg></div>
<button class="teal"><svg class="abs" style="left:-2px;top:-2px" width="72" height="72" viewBox="2217 832 72 72" fill="none" stroke="#fff" stroke-width="3" stroke-linecap="round"><path d="M2241.3 858.46H2250M2255.73 858.46H2265.1M2255.73 856.2V861.3M2241.3 867.94H2247.8M2253.9 867.94H2265.1M2247.8 865.7V870.5M2241.3 877.42H2252.5M2258.4 877.42H2265.1M2258.4 874.9V880"/></svg></button>

<section class="card" style="top:936px;height:379px">
<h2 class="t" style="left:33.00px;top:35.00px;font-size:28.0px;line-height:35px;letter-spacing:1.05px;font-weight:400;-webkit-text-stroke:.18px currentColor">Advanced Filters</h2>
<label class="t" style="left:32.00px;top:97.00px;font-size:23.9px;line-height:30px;letter-spacing:0.958px;font-weight:400;color:#6b7186">Country</label><label class="t" style="left:772.25px;top:97.00px;font-size:23.9px;line-height:30px;letter-spacing:1.15px;font-weight:400;color:#6b7186">Notice Type</label><label class="t" style="left:1513.25px;top:97.00px;font-size:23.9px;line-height:30px;letter-spacing:0.844px;font-weight:400;color:#6b7186">Set-Aside</label>
<label class="t" style="left:31.75px;top:233.00px;font-size:23.9px;line-height:30px;letter-spacing:0.528px;font-weight:400;color:#6b7186">NAICS Code</label><label class="t" style="left:772.25px;top:233.00px;font-size:23.9px;line-height:30px;letter-spacing:0.932px;font-weight:400;color:#6b7186">Posted After</label><label class="t" style="left:1512.50px;top:233.00px;font-size:23.9px;line-height:30px;letter-spacing:0.833px;font-weight:400;color:#6b7186">Posted Before</label>
</section>
<div class="field " style="left:58px;top:1074px;width:715px"><span class="t" style="left:24.25px;top:17.00px;font-size:28.2px;line-height:35px;letter-spacing:0.667px;font-weight:400">All Countries</span><svg class="abs" style="left:657.1px;top:19px" width="30" height="30" viewBox="0 0 24 24" fill="none" stroke="#7c8a8c" stroke-width="2" stroke-linecap="round" stroke-linejoin="round"><path d="M6 9l6 6 6-6"/></svg></div>
<div class="field " style="left:799px;top:1074px;width:715px"><span class="t" style="left:24.00px;top:17.00px;font-size:28.2px;line-height:35px;letter-spacing:0.719px;font-weight:400">All Types</span><svg class="abs" style="left:656.1px;top:19px" width="30" height="30" viewBox="0 0 24 24" fill="none" stroke="#7c8a8c" stroke-width="2" stroke-linecap="round" stroke-linejoin="round"><path d="M6 9l6 6 6-6"/></svg></div>
<div class="field " style="left:1539px;top:1074px;width:716px"><span class="t" style="left:24.00px;top:17.00px;font-size:28.2px;line-height:35px;letter-spacing:1.125px;font-weight:400">All</span><svg class="abs" style="left:657.2px;top:19px" width="30" height="30" viewBox="0 0 24 24" fill="none" stroke="#7c8a8c" stroke-width="2" stroke-linecap="round" stroke-linejoin="round"><path d="M6 9l6 6 6-6"/></svg></div>
<div class="field " style="left:58px;top:1210px;width:715px"><span class="t" style="left:24.25px;top:17.00px;font-size:28.2px;line-height:35px;letter-spacing:0.156px;font-weight:400">All NAICS</span><svg class="abs" style="left:657.1px;top:18.75px" width="30" height="30" viewBox="0 0 24 24" fill="none" stroke="#7c8a8c" stroke-width="2" stroke-linecap="round" stroke-linejoin="round"><path d="M6 9l6 6 6-6"/></svg></div>
<div class="field " style="left:799px;top:1210px;width:715px"><span class="t" style="left:24.00px;top:17.00px;font-size:28.2px;line-height:35px;letter-spacing:2.639px;font-weight:400">mm/dd/yyyy</span><svg class="abs" style="left:242.75px;top:20.00px" width="28" height="28" viewBox="0 0 28 28" fill="none" stroke="#111" stroke-width="2.1"><rect x="2.8" y="2.8" width="22.4" height="22.2" rx="4.2"/><path d="M2.8 9.6h22.4"/><g fill="#111" stroke="none"><circle cx="8.8" cy="14.3" r="1.65"/><circle cx="13.9" cy="14.3" r="1.65"/><circle cx="19.2" cy="14.3" r="1.65"/><circle cx="8.8" cy="19.4" r="1.65"/><circle cx="13.9" cy="19.4" r="1.65"/></g></svg></div>
<div class="field " style="left:1539px;top:1210px;width:716px"><span class="t" style="left:24.50px;top:17.00px;font-size:28.2px;line-height:35px;letter-spacing:2.639px;font-weight:400">mm/dd/yyyy</span><svg class="abs" style="left:242.75px;top:20.00px" width="28" height="28" viewBox="0 0 28 28" fill="none" stroke="#111" stroke-width="2.1"><rect x="2.8" y="2.8" width="22.4" height="22.2" rx="4.2"/><path d="M2.8 9.6h22.4"/><g fill="#111" stroke="none"><circle cx="8.8" cy="14.3" r="1.65"/><circle cx="13.9" cy="14.3" r="1.65"/><circle cx="19.2" cy="14.3" r="1.65"/><circle cx="8.8" cy="19.4" r="1.65"/><circle cx="13.9" cy="19.4" r="1.65"/></g></svg></div>

<section class="card" style="top:1348px;height:300px"></section>
<span class="chip f" style="left:65px;width:179px"><span class="t" style="left:19.07px;top:5.00px;font-size:23.7px;line-height:30px;letter-spacing:0.443px;font-weight:700">Middle East</span></span>
<span class="chip" style="left:260px;width:289px"><span class="t" style="left:19.60px;top:5.00px;font-size:23.7px;line-height:30px;letter-spacing:0.274px;font-weight:700">United Arab Emirates</span></span>
<span class="chip" style="left:565px;width:92px"><span class="t" style="left:18.70px;top:5.00px;font-size:23.7px;line-height:30px;letter-spacing:-0.15px;font-weight:700">RFQ</span></span>
<h3 class="t" style="left:64.30px;top:1454.00px;font-size:31.6px;line-height:40px;letter-spacing:0.242px;font-weight:700">Design, Build, Operate (DBO) Agreement for Mobile RO Pilot Project</h3>
<button class="ib" style="top:1391px"><svg class="abs" style="left:24.3px;top:14.2px" width="31.5" height="31.5" viewBox="0 0 24 24" fill="none" stroke="#15292b" stroke-width="2" stroke-linecap="round" stroke-linejoin="round"><path d="M19 21l-7-4-7 4V5a2 2 0 0 1 2-2h10a2 2 0 0 1 2 2v16z"/></svg></button>
<button class="ib" style="top:1470px"><svg class="abs" style="left:24.3px;top:14.2px" width="31.5" height="31.5" viewBox="0 0 24 24" fill="none" stroke="#15292b" stroke-width="2" stroke-linecap="round" stroke-linejoin="round"><path d="M15 3h6v6"/><path d="M10 14L21 3"/><path d="M18 13v6a2 2 0 0 1-2 2H5a2 2 0 0 1-2-2V8a2 2 0 0 1 2-2h6"/></svg></button>
<svg class="abs" style="left:2034px;top:1320px" width="300" height="186" viewBox="0 0 2334 1447"><defs><clipPath id="ce"><ellipse cx="1798" cy="746" rx="280" ry="358"/></clipPath><filter id="wsh" x="-40%" y="-40%" width="180%" height="180%"><feGaussianBlur stdDeviation="42"/></filter></defs><circle cx="1800" cy="790" r="365" fill="#000" opacity=".2" filter="url(#wsh)"/><circle cx="1800" cy="745" r="372" fill="#fff"/><g clip-path="url(#ce)"><rect x="1500" y="380" width="600" height="740" fill="#8484e6"/><path d="M1975 515L2700 1240V1700H2392L1597 905L1690 810H1975Z" fill="#5457ad"/><path d="M1597 515H1975V810H1690L1597 905Z" fill="#fff"/><path d="M1790 515H1975V810H1790Z" fill="#e8eaf4"/><path d="M1640 570h150v42h-150zM1640 640h150v42h-150zM1640 715h150v38h-150z" fill="#747688"/><path d="M1790 570h140v42h-140zM1790 640h140v42h-140zM1790 715h140v38h-140z" fill="#585a68"/><path d="M1825 862L2072 634L2120 690L1872 912Z" fill="#c8733a"/><path d="M1825 862L1872 912L1805 930Z" fill="#e8c840"/></g></svg>
<div class="abs" style="left:0;top:1503.6px;width:2334px;height:2.4px;background:#c4c4c8"></div>
</body>
</html>
